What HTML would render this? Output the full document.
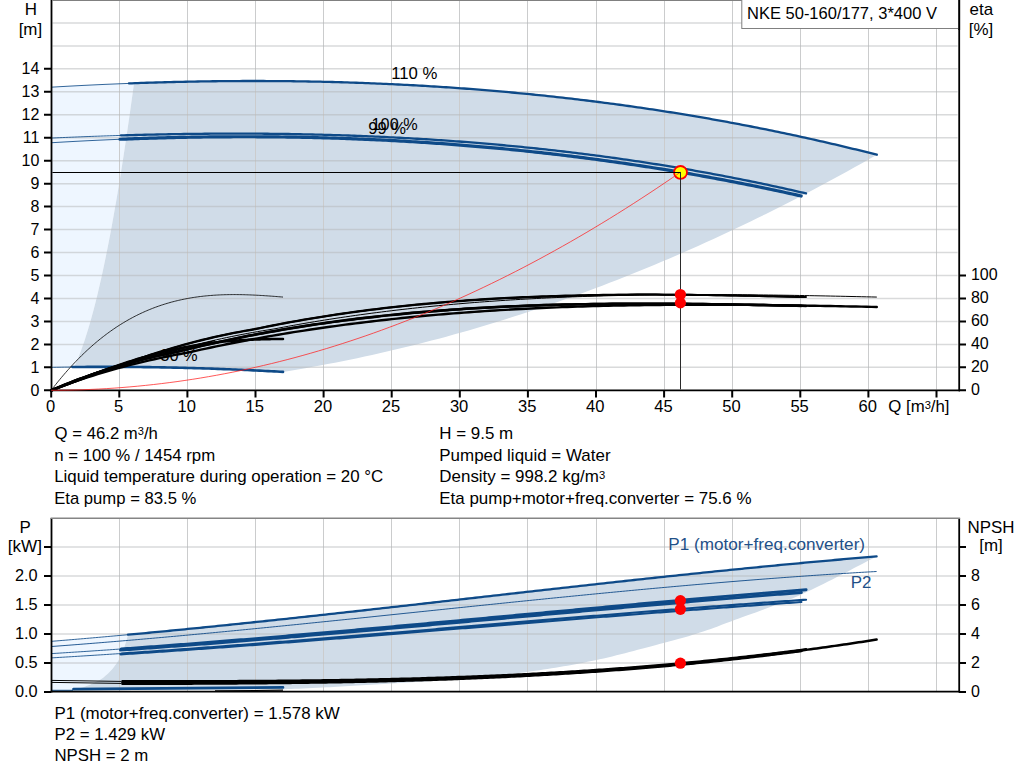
<!DOCTYPE html>
<html><head><meta charset="utf-8"><title>Pump curve</title>
<style>html,body{margin:0;padding:0;background:#fff;overflow:hidden}svg{display:block}text{font-family:"Liberation Sans",sans-serif}</style>
</head><body>
<svg width="1024" height="781" viewBox="0 0 1024 781" font-family="'Liberation Sans', sans-serif" font-size="16">
<rect x="0" y="0" width="1024" height="781" fill="#fff"/>
<path d="M52.00 87.14 L54.93 86.97 L57.86 86.80 L60.79 86.63 L63.71 86.47 L66.64 86.30 L69.57 86.14 L72.50 85.99 L75.43 85.83 L78.36 85.68 L81.29 85.53 L84.21 85.38 L87.14 85.23 L90.07 85.09 L93.00 84.95 L95.93 84.81 L98.86 84.67 L101.79 84.54 L104.71 84.41 L107.64 84.28 L110.57 84.15 L113.50 84.03 L116.43 83.90 L119.36 83.78 L122.29 83.67 L125.21 83.55 L128.14 83.44 L131.07 83.33 L134.00 83.22 L134.00 83.22 L132.50 94.25 L131.00 105.08 L129.50 115.70 L128.00 126.12 L126.50 136.35 L125.00 146.37 L123.50 156.18 L122.00 165.80 L120.50 175.21 L119.00 184.43 L117.50 193.44 L116.00 202.25 L114.49 210.86 L112.99 219.26 L111.49 227.47 L109.99 235.47 L108.49 243.27 L106.99 250.87 L105.49 258.27 L103.99 265.47 L102.49 272.46 L100.99 279.26 L99.49 285.85 L97.99 292.24 L96.49 298.43 L94.99 304.41 L93.49 310.20 L91.99 315.78 L90.49 321.16 L88.99 326.34 L87.49 331.32 L85.99 336.10 L84.49 340.67 L82.99 345.04 L81.49 349.22 L79.99 353.19 L78.49 356.95 L76.98 360.52 L75.48 363.89 L73.98 367.05 L73.98 367.03 L71.24 367.06 L68.49 367.09 L65.74 367.12 L62.99 367.16 L60.24 367.20 L57.50 367.24 L54.75 367.29 L52.00 367.33Z" fill="#eef6ff" stroke="none" stroke-width="0" />
<path d="M73.98 367.05 L75.48 363.89 L76.98 360.52 L78.49 356.95 L79.99 353.19 L81.49 349.22 L82.99 345.04 L84.49 340.67 L85.99 336.10 L87.49 331.32 L88.99 326.34 L90.49 321.16 L91.99 315.78 L93.49 310.20 L94.99 304.41 L96.49 298.43 L97.99 292.24 L99.49 285.85 L100.99 279.26 L102.49 272.46 L103.99 265.47 L105.49 258.27 L106.99 250.87 L108.49 243.27 L109.99 235.47 L111.49 227.47 L112.99 219.26 L114.49 210.86 L116.00 202.25 L117.50 193.44 L119.00 184.43 L120.50 175.21 L122.00 165.80 L123.50 156.18 L125.00 146.37 L126.50 136.35 L128.00 126.12 L129.50 115.70 L131.00 105.08 L132.50 94.25 L134.00 83.22 L137.00 83.11 L139.99 83.01 L142.99 82.91 L145.98 82.81 L148.98 82.71 L151.97 82.61 L154.97 82.52 L157.96 82.43 L160.96 82.35 L163.95 82.26 L166.95 82.18 L169.94 82.10 L172.94 82.03 L175.93 81.95 L178.93 81.88 L181.92 81.81 L184.92 81.75 L187.91 81.68 L190.91 81.62 L193.90 81.57 L196.90 81.51 L199.89 81.46 L202.89 81.41 L205.88 81.36 L208.88 81.32 L211.87 81.28 L214.87 81.24 L217.86 81.21 L220.86 81.17 L223.85 81.14 L226.85 81.12 L229.85 81.09 L232.84 81.07 L235.84 81.05 L238.83 81.04 L241.83 81.02 L244.82 81.01 L247.82 81.01 L250.81 81.00 L253.81 81.00 L256.80 81.00 L259.80 81.01 L262.79 81.01 L265.79 81.02 L268.78 81.04 L271.78 81.05 L274.77 81.07 L277.77 81.09 L280.76 81.12 L283.76 81.14 L286.75 81.17 L289.75 81.21 L292.74 81.24 L295.74 81.28 L298.73 81.33 L301.73 81.37 L304.72 81.42 L307.72 81.47 L310.71 81.53 L313.71 81.58 L316.70 81.64 L319.70 81.71 L322.70 81.77 L325.69 81.84 L328.69 81.92 L331.68 81.99 L334.68 82.07 L337.67 82.15 L340.67 82.24 L343.66 82.33 L346.66 82.42 L349.65 82.51 L352.65 82.61 L355.64 82.71 L358.64 82.81 L361.63 82.92 L364.63 83.03 L367.62 83.14 L370.62 83.26 L373.61 83.38 L376.61 83.50 L379.60 83.63 L382.60 83.76 L385.59 83.89 L388.59 84.02 L391.58 84.16 L394.58 84.30 L397.57 84.45 L400.57 84.60 L403.56 84.75 L406.56 84.90 L409.55 85.06 L412.55 85.22 L415.55 85.39 L418.54 85.56 L421.54 85.73 L424.53 85.90 L427.53 86.08 L430.52 86.26 L433.52 86.45 L436.51 86.63 L439.51 86.83 L442.50 87.02 L445.50 87.22 L448.49 87.42 L451.49 87.62 L454.48 87.83 L457.48 88.04 L460.47 88.26 L463.47 88.48 L466.46 88.70 L469.46 88.92 L472.45 89.15 L475.45 89.38 L478.44 89.62 L481.44 89.86 L484.43 90.10 L487.43 90.35 L490.42 90.60 L493.42 90.85 L496.41 91.10 L499.41 91.36 L502.40 91.63 L505.40 91.89 L508.40 92.17 L511.39 92.44 L514.39 92.72 L517.38 93.00 L520.38 93.28 L523.37 93.57 L526.37 93.86 L529.36 94.16 L532.36 94.46 L535.35 94.76 L538.35 95.06 L541.34 95.37 L544.34 95.69 L547.33 96.00 L550.33 96.32 L553.32 96.65 L556.32 96.98 L559.31 97.31 L562.31 97.64 L565.30 97.98 L568.30 98.32 L571.29 98.67 L574.29 99.02 L577.28 99.37 L580.28 99.73 L583.27 100.09 L586.27 100.46 L589.26 100.82 L592.26 101.20 L595.25 101.57 L598.25 101.95 L601.25 102.33 L604.24 102.72 L607.24 103.11 L610.23 103.51 L613.23 103.91 L616.22 104.31 L619.22 104.71 L622.21 105.12 L625.21 105.54 L628.20 105.95 L631.20 106.38 L634.19 106.80 L637.19 107.23 L640.18 107.66 L643.18 108.10 L646.17 108.54 L649.17 108.99 L652.16 109.43 L655.16 109.89 L658.15 110.34 L661.15 110.80 L664.14 111.27 L667.14 111.74 L670.13 112.21 L673.13 112.68 L676.12 113.16 L679.12 113.65 L682.11 114.13 L685.11 114.63 L688.10 115.12 L691.10 115.62 L694.10 116.13 L697.09 116.63 L700.09 117.15 L703.08 117.66 L706.08 118.18 L709.07 118.71 L712.07 119.23 L715.06 119.77 L718.06 120.30 L721.05 120.84 L724.05 121.39 L727.04 121.93 L730.04 122.49 L733.03 123.04 L736.03 123.60 L739.02 124.17 L742.02 124.74 L745.01 125.31 L748.01 125.89 L751.00 126.47 L754.00 127.05 L756.99 127.64 L759.99 128.24 L762.98 128.84 L765.98 129.44 L768.97 130.04 L771.97 130.65 L774.96 131.27 L777.96 131.89 L780.95 132.51 L783.95 133.14 L786.95 133.77 L789.94 134.41 L792.94 135.05 L795.93 135.69 L798.93 136.34 L801.92 136.99 L804.92 137.65 L807.91 138.31 L810.91 138.98 L813.90 139.65 L816.90 140.32 L819.89 141.00 L822.89 141.68 L825.88 142.37 L828.88 143.06 L831.87 143.76 L834.87 144.46 L837.86 145.16 L840.86 145.87 L843.85 146.59 L846.85 147.31 L849.84 148.03 L852.84 148.75 L855.83 149.49 L858.83 150.22 L861.82 150.96 L864.82 151.71 L867.81 152.46 L870.81 153.21 L873.80 153.97 L876.80 154.73 L869.38 158.96 L861.95 163.15 L854.53 167.31 L847.11 171.42 L839.69 175.50 L832.26 179.54 L824.84 183.54 L817.42 187.50 L810.00 191.43 L802.57 195.31 L795.15 199.16 L787.73 202.97 L780.31 206.74 L772.88 210.47 L765.46 214.16 L758.04 217.82 L750.62 221.43 L743.19 225.01 L735.77 228.55 L728.35 232.05 L720.93 235.51 L713.50 238.93 L706.08 242.32 L698.66 245.67 L691.24 248.98 L683.81 252.25 L676.39 255.48 L668.97 258.67 L661.55 261.83 L654.12 264.94 L646.70 268.02 L639.28 271.06 L631.86 274.06 L624.43 277.02 L617.01 279.95 L609.59 282.83 L602.17 285.68 L594.74 288.49 L587.32 291.26 L579.90 294.00 L572.48 296.69 L565.06 299.35 L557.63 301.96 L550.21 304.54 L542.79 307.08 L535.36 309.59 L527.94 312.05 L520.52 314.48 L513.10 316.86 L505.67 319.21 L498.25 321.52 L490.83 323.80 L483.41 326.03 L475.98 328.23 L468.56 330.39 L461.14 332.50 L453.72 334.59 L446.29 336.63 L438.87 338.63 L431.45 340.60 L424.03 342.53 L416.60 344.42 L409.18 346.27 L401.76 348.08 L394.34 349.86 L386.91 351.59 L379.49 353.29 L372.07 354.95 L364.65 356.57 L357.22 358.16 L349.80 359.70 L342.38 361.21 L334.96 362.68 L327.53 364.11 L320.11 365.50 L312.69 366.86 L305.27 368.17 L297.84 369.45 L290.42 370.69 L283.00 371.89 L280.01 371.73 L277.03 371.56 L274.04 371.40 L271.06 371.24 L268.07 371.08 L265.08 370.92 L262.10 370.77 L259.11 370.62 L256.13 370.48 L253.14 370.34 L250.15 370.20 L247.17 370.06 L244.18 369.92 L241.20 369.79 L238.21 369.66 L235.22 369.54 L232.24 369.42 L229.25 369.30 L226.27 369.18 L223.28 369.07 L220.30 368.95 L217.31 368.85 L214.32 368.74 L211.34 368.64 L208.35 368.54 L205.37 368.44 L202.38 368.35 L199.39 368.26 L196.41 368.17 L193.42 368.08 L190.44 368.00 L187.45 367.92 L184.46 367.84 L181.48 367.77 L178.49 367.70 L175.51 367.63 L172.52 367.57 L169.53 367.50 L166.55 367.44 L163.56 367.39 L160.58 367.33 L157.59 367.28 L154.60 367.23 L151.62 367.19 L148.63 367.15 L145.65 367.11 L142.66 367.07 L139.67 367.04 L136.69 367.01 L133.70 366.98 L130.72 366.95 L127.73 366.93 L124.75 366.91 L121.76 366.90 L118.77 366.88 L115.79 366.87 L112.80 366.86 L109.82 366.86 L106.83 366.86 L103.84 366.86 L100.86 366.86 L97.87 366.87 L94.89 366.88 L91.90 366.89 L88.91 366.91 L85.93 366.93 L82.94 366.95 L79.96 366.97 L76.97 367.00 L73.98 367.03Z" fill="#d0dce8" stroke="none" stroke-width="0" />
<path d="M119.5 1V389.5M187.5 1V389.5M255.5 1V389.5M323.5 1V389.5M391.5 1V389.5M459.5 1V389.5M527.5 1V389.5M596.5 1V389.5M664.5 1V389.5M732.5 1V389.5M800.5 1V389.5M868.5 1V389.5M936.5 1V389.5" fill="none" stroke="#cbcccd" stroke-width="1" />
<path d="M52.4 367.34H957.6M52.4 344.38H957.6M52.4 321.42H957.6M52.4 298.46H957.6M52.4 275.50H957.6M52.4 252.54H957.6M52.4 229.58H957.6M52.4 206.62H957.6M52.4 183.66H957.6M52.4 160.70H957.6M52.4 137.74H957.6M52.4 114.78H957.6M52.4 91.82H957.6M52.4 68.86H957.6M52.4 45.90H957.6M52.4 22.94H957.6" fill="none" stroke="#b6b8ba" stroke-width="1.5" stroke-opacity="0.52"/>
<path d="M51.00 87.20 L54.00 87.02 L57.00 86.85 L60.00 86.67 L63.00 86.51 L66.00 86.34 L69.00 86.17 L72.00 86.01 L75.00 85.85 L78.00 85.70 L81.00 85.54 L84.00 85.39 L87.00 85.24 L90.00 85.09 L93.00 84.95 L96.00 84.81 L99.00 84.67 L102.00 84.53 L105.00 84.39 L108.00 84.26 L111.00 84.13 L114.00 84.00 L117.00 83.88 L120.00 83.76 L123.00 83.64 L126.00 83.52 L129.00 83.41" fill="none" stroke="#0e4a88" stroke-width="0.85" />
<path d="M129.00 83.41 L131.99 83.29 L134.98 83.19 L137.97 83.08 L140.96 82.97 L143.96 82.87 L146.95 82.77 L149.94 82.68 L152.93 82.58 L155.92 82.49 L158.91 82.40 L161.90 82.32 L164.89 82.24 L167.89 82.16 L170.88 82.08 L173.87 82.00 L176.86 81.93 L179.85 81.86 L182.84 81.79 L185.83 81.73 L188.82 81.67 L191.82 81.61 L194.81 81.55 L197.80 81.50 L200.79 81.45 L203.78 81.40 L206.77 81.35 L209.76 81.31 L212.75 81.27 L215.74 81.23 L218.74 81.20 L221.73 81.16 L224.72 81.14 L227.71 81.11 L230.70 81.09 L233.69 81.07 L236.68 81.05 L239.67 81.03 L242.67 81.02 L245.66 81.01 L248.65 81.00 L251.64 81.00 L254.63 81.00 L257.62 81.00 L260.61 81.01 L263.60 81.02 L266.60 81.03 L269.59 81.04 L272.58 81.06 L275.57 81.08 L278.56 81.10 L281.55 81.12 L284.54 81.15 L287.53 81.18 L290.52 81.22 L293.52 81.25 L296.51 81.29 L299.50 81.34 L302.49 81.38 L305.48 81.43 L308.47 81.49 L311.46 81.54 L314.45 81.60 L317.45 81.66 L320.44 81.72 L323.43 81.79 L326.42 81.86 L329.41 81.93 L332.40 82.01 L335.39 82.09 L338.38 82.17 L341.38 82.26 L344.37 82.35 L347.36 82.44 L350.35 82.53 L353.34 82.63 L356.33 82.73 L359.32 82.84 L362.31 82.94 L365.30 83.05 L368.30 83.17 L371.29 83.29 L374.28 83.41 L377.27 83.53 L380.26 83.65 L383.25 83.78 L386.24 83.92 L389.23 84.05 L392.23 84.19 L395.22 84.33 L398.21 84.48 L401.20 84.63 L404.19 84.78 L407.18 84.94 L410.17 85.10 L413.16 85.26 L416.16 85.42 L419.15 85.59 L422.14 85.76 L425.13 85.94 L428.12 86.12 L431.11 86.30 L434.10 86.48 L437.09 86.67 L440.08 86.86 L443.08 87.06 L446.07 87.26 L449.06 87.46 L452.05 87.66 L455.04 87.87 L458.03 88.08 L461.02 88.30 L464.01 88.52 L467.01 88.74 L470.00 88.96 L472.99 89.19 L475.98 89.43 L478.97 89.66 L481.96 89.90 L484.95 90.14 L487.94 90.39 L490.94 90.64 L493.93 90.89 L496.92 91.15 L499.91 91.41 L502.90 91.67 L505.89 91.94 L508.88 92.21 L511.87 92.48 L514.86 92.76 L517.86 93.04 L520.85 93.33 L523.84 93.62 L526.83 93.91 L529.82 94.20 L532.81 94.50 L535.80 94.80 L538.79 95.11 L541.79 95.42 L544.78 95.73 L547.77 96.05 L550.76 96.37 L553.75 96.69 L556.74 97.02 L559.73 97.35 L562.72 97.69 L565.72 98.03 L568.71 98.37 L571.70 98.72 L574.69 99.07 L577.68 99.42 L580.67 99.78 L583.66 100.14 L586.65 100.50 L589.64 100.87 L592.64 101.24 L595.63 101.62 L598.62 102.00 L601.61 102.38 L604.60 102.77 L607.59 103.16 L610.58 103.55 L613.57 103.95 L616.57 104.35 L619.56 104.76 L622.55 105.17 L625.54 105.58 L628.53 106.00 L631.52 106.42 L634.51 106.85 L637.50 107.28 L640.50 107.71 L643.49 108.15 L646.48 108.59 L649.47 109.03 L652.46 109.48 L655.45 109.93 L658.44 110.39 L661.43 110.85 L664.42 111.31 L667.42 111.78 L670.41 112.25 L673.40 112.73 L676.39 113.21 L679.38 113.69 L682.37 114.18 L685.36 114.67 L688.35 115.16 L691.35 115.66 L694.34 116.17 L697.33 116.67 L700.32 117.19 L703.31 117.70 L706.30 118.22 L709.29 118.74 L712.28 119.27 L715.28 119.80 L718.27 120.34 L721.26 120.88 L724.25 121.42 L727.24 121.97 L730.23 122.52 L733.22 123.08 L736.21 123.64 L739.20 124.20 L742.20 124.77 L745.19 125.34 L748.18 125.92 L751.17 126.50 L754.16 127.09 L757.15 127.67 L760.14 128.27 L763.13 128.87 L766.13 129.47 L769.12 130.07 L772.11 130.68 L775.10 131.30 L778.09 131.91 L781.08 132.54 L784.07 133.16 L787.06 133.80 L790.06 134.43 L793.05 135.07 L796.04 135.71 L799.03 136.36 L802.02 137.01 L805.01 137.67 L808.00 138.33 L810.99 139.00 L813.98 139.67 L816.98 140.34 L819.97 141.02 L822.96 141.70 L825.95 142.39 L828.94 143.08 L831.93 143.77 L834.92 144.47 L837.91 145.18 L840.91 145.89 L843.90 146.60 L846.89 147.32 L849.88 148.04 L852.87 148.76 L855.86 149.49 L858.85 150.23 L861.84 150.97 L864.84 151.71 L867.83 152.46 L870.82 153.21 L873.81 153.97 L876.80 154.73" fill="none" stroke="#0e4a88" stroke-width="2.3" stroke-linecap="round" stroke-linejoin="round"/>
<path d="M51.00 138.09 L53.92 137.96 L56.83 137.83 L59.75 137.70 L62.67 137.57 L65.58 137.44 L68.50 137.32 L71.42 137.20 L74.33 137.08 L77.25 136.96 L80.17 136.85 L83.08 136.73 L86.00 136.62 L88.92 136.51 L91.83 136.40 L94.75 136.29 L97.67 136.19 L100.58 136.08 L103.50 135.98 L106.42 135.88 L109.33 135.79 L112.25 135.69 L115.17 135.60 L118.08 135.51 L121.00 135.42" fill="none" stroke="#0e4a88" stroke-width="0.85" />
<path d="M121.00 135.42 L123.99 135.33 L126.98 135.24 L129.97 135.16 L132.97 135.08 L135.96 134.99 L138.95 134.92 L141.94 134.84 L144.93 134.77 L147.92 134.69 L150.91 134.62 L153.90 134.56 L156.90 134.49 L159.89 134.43 L162.88 134.37 L165.87 134.31 L168.86 134.25 L171.85 134.20 L174.84 134.15 L177.83 134.10 L180.83 134.05 L183.82 134.01 L186.81 133.97 L189.80 133.93 L192.79 133.89 L195.78 133.85 L198.77 133.82 L201.76 133.79 L204.76 133.76 L207.75 133.74 L210.74 133.72 L213.73 133.69 L216.72 133.68 L219.71 133.66 L222.70 133.65 L225.69 133.64 L228.69 133.63 L231.68 133.63 L234.67 133.62 L237.66 133.62 L240.65 133.62 L243.64 133.63 L246.63 133.64 L249.62 133.65 L252.62 133.66 L255.61 133.68 L258.60 133.69 L261.59 133.71 L264.58 133.74 L267.57 133.76 L270.56 133.79 L273.55 133.82 L276.55 133.86 L279.54 133.89 L282.53 133.93 L285.52 133.98 L288.51 134.02 L291.50 134.07 L294.49 134.12 L297.48 134.17 L300.48 134.23 L303.47 134.29 L306.46 134.35 L309.45 134.42 L312.44 134.48 L315.43 134.55 L318.42 134.63 L321.41 134.70 L324.41 134.78 L327.40 134.86 L330.39 134.95 L333.38 135.04 L336.37 135.13 L339.36 135.22 L342.35 135.32 L345.34 135.42 L348.34 135.52 L351.33 135.63 L354.32 135.73 L357.31 135.85 L360.30 135.96 L363.29 136.08 L366.28 136.20 L369.28 136.32 L372.27 136.45 L375.26 136.58 L378.25 136.71 L381.24 136.85 L384.23 136.99 L387.22 137.13 L390.21 137.28 L393.21 137.42 L396.20 137.58 L399.19 137.73 L402.18 137.89 L405.17 138.05 L408.16 138.22 L411.15 138.38 L414.14 138.55 L417.14 138.73 L420.13 138.91 L423.12 139.09 L426.11 139.27 L429.10 139.46 L432.09 139.65 L435.08 139.84 L438.07 140.04 L441.07 140.24 L444.06 140.45 L447.05 140.65 L450.04 140.87 L453.03 141.08 L456.02 141.30 L459.01 141.52 L462.00 141.74 L465.00 141.97 L467.99 142.20 L470.98 142.44 L473.97 142.68 L476.96 142.92 L479.95 143.16 L482.94 143.41 L485.93 143.66 L488.93 143.92 L491.92 144.18 L494.91 144.44 L497.90 144.71 L500.89 144.98 L503.88 145.25 L506.87 145.53 L509.86 145.81 L512.86 146.10 L515.85 146.38 L518.84 146.68 L521.83 146.97 L524.82 147.27 L527.81 147.57 L530.80 147.88 L533.79 148.19 L536.79 148.50 L539.78 148.82 L542.77 149.14 L545.76 149.47 L548.75 149.80 L551.74 150.13 L554.73 150.47 L557.72 150.81 L560.72 151.15 L563.71 151.50 L566.70 151.85 L569.69 152.21 L572.68 152.57 L575.67 152.93 L578.66 153.30 L581.66 153.67 L584.65 154.04 L587.64 154.42 L590.63 154.80 L593.62 155.19 L596.61 155.58 L599.60 155.98 L602.59 156.37 L605.59 156.78 L608.58 157.18 L611.57 157.59 L614.56 158.01 L617.55 158.43 L620.54 158.85 L623.53 159.28 L626.52 159.71 L629.52 160.14 L632.51 160.58 L635.50 161.02 L638.49 161.47 L641.48 161.92 L644.47 162.38 L647.46 162.84 L650.45 163.30 L653.45 163.77 L656.44 164.24 L659.43 164.72 L662.42 165.20 L665.41 165.68 L668.40 166.17 L671.39 166.66 L674.38 167.16 L677.38 167.66 L680.37 168.17 L683.36 168.68 L686.35 169.19 L689.34 169.71 L692.33 170.23 L695.32 170.76 L698.31 171.29 L701.31 171.83 L704.30 172.37 L707.29 172.91 L710.28 173.46 L713.27 174.01 L716.26 174.57 L719.25 175.13 L722.24 175.70 L725.24 176.27 L728.23 176.85 L731.22 177.43 L734.21 178.01 L737.20 178.60 L740.19 179.19 L743.18 179.79 L746.17 180.40 L749.17 181.00 L752.16 181.61 L755.15 182.23 L758.14 182.85 L761.13 183.48 L764.12 184.11 L767.11 184.74 L770.10 185.38 L773.10 186.02 L776.09 186.67 L779.08 187.32 L782.07 187.98 L785.06 188.64 L788.05 189.31 L791.04 189.98 L794.03 190.66 L797.03 191.34 L800.02 192.03 L803.01 192.72 L806.00 193.41" fill="none" stroke="#0e4a88" stroke-width="2.3" stroke-linecap="round" stroke-linejoin="round"/>
<path d="M51.00 142.76 L54.00 142.58 L57.00 142.40 L60.00 142.23 L63.00 142.05 L66.00 141.88 L69.00 141.72 L72.00 141.55 L75.00 141.39 L78.00 141.23 L81.00 141.07 L84.00 140.92 L87.00 140.76 L90.00 140.62 L93.00 140.47 L96.00 140.32 L99.00 140.18 L102.00 140.05 L105.00 139.91 L108.00 139.78 L111.00 139.65 L114.00 139.52 L117.00 139.40 L120.00 139.27" fill="none" stroke="#0e4a88" stroke-width="0.85" />
<path d="M120.00 139.27 L122.99 139.16 L125.98 139.04 L128.96 138.93 L131.95 138.82 L134.94 138.71 L137.93 138.60 L140.91 138.50 L143.90 138.40 L146.89 138.31 L149.88 138.21 L152.86 138.12 L155.85 138.04 L158.84 137.95 L161.83 137.87 L164.82 137.79 L167.80 137.71 L170.79 137.64 L173.78 137.57 L176.77 137.50 L179.75 137.44 L182.74 137.37 L185.73 137.31 L188.72 137.26 L191.71 137.20 L194.69 137.15 L197.68 137.11 L200.67 137.06 L203.66 137.02 L206.64 136.98 L209.63 136.95 L212.62 136.91 L215.61 136.88 L218.59 136.86 L221.58 136.83 L224.57 136.81 L227.56 136.79 L230.55 136.78 L233.53 136.77 L236.52 136.76 L239.51 136.75 L242.50 136.75 L245.48 136.75 L248.47 136.75 L251.46 136.76 L254.45 136.76 L257.44 136.78 L260.42 136.79 L263.41 136.81 L266.40 136.83 L269.39 136.86 L272.37 136.88 L275.36 136.91 L278.35 136.95 L281.34 136.98 L284.32 137.02 L287.31 137.07 L290.30 137.11 L293.29 137.16 L296.28 137.21 L299.26 137.27 L302.25 137.33 L305.24 137.39 L308.23 137.45 L311.21 137.52 L314.20 137.59 L317.19 137.66 L320.18 137.74 L323.16 137.82 L326.15 137.91 L329.14 137.99 L332.13 138.08 L335.12 138.18 L338.10 138.27 L341.09 138.37 L344.08 138.48 L347.07 138.58 L350.05 138.69 L353.04 138.80 L356.03 138.92 L359.02 139.04 L362.01 139.16 L364.99 139.29 L367.98 139.42 L370.97 139.55 L373.96 139.68 L376.94 139.82 L379.93 139.96 L382.92 140.11 L385.91 140.26 L388.89 140.41 L391.88 140.56 L394.87 140.72 L397.86 140.89 L400.85 141.05 L403.83 141.22 L406.82 141.39 L409.81 141.57 L412.80 141.75 L415.78 141.93 L418.77 142.11 L421.76 142.30 L424.75 142.49 L427.74 142.69 L430.72 142.89 L433.71 143.09 L436.70 143.30 L439.69 143.51 L442.67 143.72 L445.66 143.94 L448.65 144.15 L451.64 144.38 L454.62 144.60 L457.61 144.83 L460.60 145.07 L463.59 145.30 L466.58 145.54 L469.56 145.79 L472.55 146.04 L475.54 146.29 L478.53 146.54 L481.51 146.80 L484.50 147.06 L487.49 147.33 L490.48 147.59 L493.46 147.87 L496.45 148.14 L499.44 148.42 L502.43 148.70 L505.42 148.99 L508.40 149.28 L511.39 149.57 L514.38 149.87 L517.37 150.17 L520.35 150.47 L523.34 150.78 L526.33 151.09 L529.32 151.41 L532.31 151.73 L535.29 152.05 L538.28 152.37 L541.27 152.70 L544.26 153.04 L547.24 153.37 L550.23 153.71 L553.22 154.06 L556.21 154.41 L559.19 154.76 L562.18 155.11 L565.17 155.47 L568.16 155.83 L571.15 156.20 L574.13 156.57 L577.12 156.94 L580.11 157.32 L583.10 157.70 L586.08 158.09 L589.07 158.48 L592.06 158.87 L595.05 159.26 L598.04 159.66 L601.02 160.07 L604.01 160.47 L607.00 160.89 L609.99 161.30 L612.97 161.72 L615.96 162.14 L618.95 162.57 L621.94 163.00 L624.92 163.43 L627.91 163.87 L630.90 164.31 L633.89 164.76 L636.88 165.21 L639.86 165.66 L642.85 166.12 L645.84 166.58 L648.83 167.04 L651.81 167.51 L654.80 167.98 L657.79 168.46 L660.78 168.94 L663.76 169.42 L666.75 169.91 L669.74 170.40 L672.73 170.90 L675.72 171.40 L678.70 171.90 L681.69 172.41 L684.68 172.92 L687.67 173.44 L690.65 173.95 L693.64 174.48 L696.63 175.01 L699.62 175.54 L702.61 176.07 L705.59 176.61 L708.58 177.15 L711.57 177.70 L714.56 178.25 L717.54 178.81 L720.53 179.37 L723.52 179.93 L726.51 180.50 L729.49 181.07 L732.48 181.64 L735.47 182.22 L738.46 182.81 L741.45 183.40 L744.43 183.99 L747.42 184.58 L750.41 185.18 L753.40 185.79 L756.38 186.39 L759.37 187.01 L762.36 187.62 L765.35 188.24 L768.34 188.87 L771.32 189.50 L774.31 190.13 L777.30 190.76 L780.29 191.41 L783.27 192.05 L786.26 192.70 L789.25 193.35 L792.24 194.01 L795.22 194.67 L798.21 195.34 L801.20 196.01" fill="none" stroke="#0e4a88" stroke-width="3.2" stroke-linecap="round" stroke-linejoin="round"/>
<path d="M51.00 367.35 L53.69 367.31 L56.38 367.26 L59.06 367.22 L61.75 367.18 L64.44 367.14 L67.12 367.11 L69.81 367.07 L72.50 367.04" fill="none" stroke="#0e4a88" stroke-width="0.85" />
<path d="M72.50 367.04 L75.46 367.01 L78.43 366.98 L81.39 366.96 L84.36 366.94 L87.32 366.92 L90.29 366.90 L93.25 366.89 L96.22 366.87 L99.18 366.87 L102.15 366.86 L105.11 366.86 L108.08 366.86 L111.04 366.86 L114.01 366.87 L116.97 366.88 L119.94 366.89 L122.90 366.90 L125.87 366.92 L128.83 366.94 L131.80 366.96 L134.76 366.99 L137.73 367.02 L140.69 367.05 L143.65 367.08 L146.62 367.12 L149.58 367.16 L152.55 367.20 L155.51 367.25 L158.48 367.30 L161.44 367.35 L164.41 367.40 L167.37 367.46 L170.34 367.52 L173.30 367.58 L176.27 367.65 L179.23 367.72 L182.20 367.79 L185.16 367.86 L188.13 367.94 L191.09 368.02 L194.06 368.10 L197.02 368.19 L199.99 368.27 L202.95 368.36 L205.92 368.46 L208.88 368.56 L211.85 368.65 L214.81 368.76 L217.77 368.86 L220.74 368.97 L223.70 369.08 L226.67 369.19 L229.63 369.31 L232.60 369.43 L235.56 369.55 L238.53 369.68 L241.49 369.81 L244.46 369.94 L247.42 370.07 L250.39 370.21 L253.35 370.35 L256.32 370.49 L259.28 370.63 L262.25 370.78 L265.21 370.93 L268.18 371.08 L271.14 371.24 L274.11 371.40 L277.07 371.56 L280.04 371.73 L283.00 371.89" fill="none" stroke="#0e4a88" stroke-width="2.6" stroke-linecap="round" stroke-linejoin="round"/>
<text transform="translate(391.20 79.00) scale(0.9850 1)" text-anchor="start" fill="#000" font-size="17">110 %</text>
<text transform="translate(371.60 129.80) scale(0.9550 1)" text-anchor="start" fill="#000" font-size="17">100 %</text>
<text transform="translate(368.20 133.60) scale(0.9750 1)" text-anchor="start" fill="#000" font-size="17">99 %</text>
<text transform="translate(160.30 360.60) scale(0.9650 1)" text-anchor="start" fill="#000" font-size="17">30 %</text>
<path d="M51.20 390.30 L52.65 388.42 L54.10 386.56 L55.55 384.72 L57.00 382.91 L58.44 381.12 L59.89 379.36 L61.34 377.62 L62.79 375.90 L64.24 374.20 L65.69 372.53 L67.14 370.88 L68.59 369.25 L70.03 367.65 L71.48 366.06 L72.93 364.50 L74.38 362.96 L75.83 361.44 L77.28 359.95 L78.73 358.47 L80.18 357.02 L81.62 355.58 L83.07 354.17 L84.52 352.78 L85.97 351.41 L87.42 350.06 L88.87 348.73 L90.32 347.43 L91.77 346.14 L93.21 344.87 L94.66 343.62 L96.11 342.39 L97.56 341.18 L99.01 339.99 L100.46 338.82 L101.91 337.67 L103.36 336.54 L104.80 335.43 L106.25 334.33 L107.70 333.25 L109.15 332.20 L110.60 331.16 L112.05 330.14 L113.50 329.13 L114.95 328.15 L116.39 327.18 L117.84 326.23 L119.29 325.30 L120.74 324.38 L122.19 323.48 L123.64 322.60 L125.09 321.74 L126.54 320.89 L127.98 320.06 L129.43 319.25 L130.88 318.45 L132.33 317.67 L133.78 316.90 L135.23 316.15 L136.68 315.42 L138.12 314.70 L139.57 314.00 L141.02 313.31 L142.47 312.63 L143.92 311.98 L145.37 311.33 L146.82 310.71 L148.27 310.09 L149.72 309.49 L151.16 308.91 L152.61 308.34 L154.06 307.78 L155.51 307.24 L156.96 306.71 L158.41 306.19 L159.86 305.69 L161.31 305.20 L162.75 304.73 L164.20 304.27 L165.65 303.82 L167.10 303.38 L168.55 302.96 L170.00 302.54 L171.45 302.14 L172.90 301.76 L174.34 301.38 L175.79 301.02 L177.24 300.67 L178.69 300.33 L180.14 300.00 L181.59 299.68 L183.04 299.37 L184.49 299.08 L185.93 298.80 L187.38 298.52 L188.83 298.26 L190.28 298.01 L191.73 297.76 L193.18 297.53 L194.63 297.31 L196.07 297.10 L197.52 296.90 L198.97 296.70 L200.42 296.52 L201.87 296.35 L203.32 296.18 L204.77 296.03 L206.22 295.88 L207.67 295.74 L209.11 295.61 L210.56 295.49 L212.01 295.38 L213.46 295.27 L214.91 295.18 L216.36 295.09 L217.81 295.01 L219.25 294.93 L220.70 294.87 L222.15 294.81 L223.60 294.76 L225.05 294.71 L226.50 294.68 L227.95 294.65 L229.40 294.62 L230.85 294.61 L232.29 294.59 L233.74 294.59 L235.19 294.59 L236.64 294.60 L238.09 294.61 L239.54 294.63 L240.99 294.65 L242.44 294.68 L243.88 294.71 L245.33 294.75 L246.78 294.80 L248.23 294.85 L249.68 294.90 L251.13 294.96 L252.58 295.02 L254.02 295.09 L255.47 295.16 L256.92 295.23 L258.37 295.31 L259.82 295.39 L261.27 295.48 L262.72 295.56 L264.17 295.66 L265.62 295.75 L267.06 295.85 L268.51 295.95 L269.96 296.05 L271.41 296.16 L272.86 296.26 L274.31 296.37 L275.76 296.49 L277.21 296.60 L278.65 296.72 L280.10 296.83 L281.55 296.95 L283.00 297.07" fill="none" stroke="#000" stroke-width="0.8" />
<path d="M51.20 390.30 L52.65 389.77 L54.10 389.23 L55.55 388.69 L57.00 388.15 L58.44 387.61 L59.89 387.07 L61.34 386.52 L62.79 385.97 L64.24 385.42 L65.69 384.87 L67.14 384.32 L68.59 383.76 L70.03 383.21 L71.48 382.65 L72.93 382.09 L74.38 381.54 L75.83 380.98 L77.28 380.42 L78.73 379.87 L80.18 379.31 L81.62 378.76 L83.07 378.20 L84.52 377.65 L85.97 377.09 L87.42 376.54 L88.87 375.99 L90.32 375.44 L91.77 374.89 L93.21 374.34 L94.66 373.80 L96.11 373.26 L97.56 372.72 L99.01 372.18 L100.46 371.64 L101.91 371.11 L103.36 370.57 L104.80 370.05 L106.25 369.52 L107.70 369.00 L109.15 368.48 L110.60 367.96 L112.05 367.44 L113.50 366.93 L114.95 366.42 L116.39 365.92 L117.84 365.42 L119.29 364.92 L120.74 364.43 L122.19 363.94 L123.64 363.45 L125.09 362.97 L126.54 362.49 L127.98 362.02 L129.43 361.55 L130.88 361.08 L132.33 360.62 L133.78 360.16 L135.23 359.71 L136.68 359.26 L138.12 358.82 L139.57 358.38 L141.02 357.95 L142.47 357.52 L143.92 357.09 L145.37 356.67 L146.82 356.26 L148.27 355.84 L149.72 355.44 L151.16 355.04 L152.61 354.64 L154.06 354.25 L155.51 353.87 L156.96 353.49 L158.41 353.11 L159.86 352.74 L161.31 352.38 L162.75 352.02 L164.20 351.66 L165.65 351.31 L167.10 350.97 L168.55 350.63 L170.00 350.30 L171.45 349.97 L172.90 349.64 L174.34 349.33 L175.79 349.01 L177.24 348.71 L178.69 348.41 L180.14 348.11 L181.59 347.82 L183.04 347.53 L184.49 347.25 L185.93 346.98 L187.38 346.71 L188.83 346.44 L190.28 346.18 L191.73 345.93 L193.18 345.68 L194.63 345.44 L196.07 345.20 L197.52 344.97 L198.97 344.74 L200.42 344.52 L201.87 344.30 L203.32 344.09 L204.77 343.88 L206.22 343.68 L207.67 343.48 L209.11 343.29 L210.56 343.10 L212.01 342.92 L213.46 342.74 L214.91 342.57 L216.36 342.40 L217.81 342.24 L219.25 342.08 L220.70 341.92 L222.15 341.78 L223.60 341.63 L225.05 341.49 L226.50 341.36 L227.95 341.23 L229.40 341.10 L230.85 340.98 L232.29 340.86 L233.74 340.75 L235.19 340.64 L236.64 340.53 L238.09 340.43 L239.54 340.34 L240.99 340.24 L242.44 340.16 L243.88 340.07 L245.33 339.99 L246.78 339.91 L248.23 339.84 L249.68 339.77 L251.13 339.71 L252.58 339.64 L254.02 339.58 L255.47 339.53 L256.92 339.48 L258.37 339.43 L259.82 339.38 L261.27 339.34 L262.72 339.30 L264.17 339.26 L265.62 339.23 L267.06 339.20 L268.51 339.17 L269.96 339.14 L271.41 339.12 L272.86 339.10 L274.31 339.08 L275.76 339.07 L277.21 339.05 L278.65 339.04 L280.10 339.04 L281.55 339.03 L283.00 339.02" fill="none" stroke="#000" stroke-width="2.5" stroke-linecap="round" stroke-linejoin="round"/>
<path d="M51.20 390.30 L56.36 388.42 L61.52 386.56 L66.68 384.72 L71.84 382.91 L77.00 381.12 L82.16 379.36 L87.32 377.62 L92.48 375.90 L97.64 374.20 L102.80 372.53 L107.96 370.88 L113.12 369.25 L118.28 367.63 L123.44 365.97 L128.60 364.33 L133.76 362.69 L138.92 361.08 L144.08 359.48 L149.24 357.90 L154.40 356.34 L159.56 354.80 L164.72 353.29 L169.88 351.80 L175.04 350.34 L180.20 348.91 L185.36 347.51 L190.52 346.15 L195.68 344.81 L200.84 343.51 L206.00 342.25 L211.16 341.02 L216.32 339.83 L221.48 338.68 L226.64 337.57 L231.80 336.49 L236.96 335.45 L242.12 334.44 L247.28 333.47 L252.44 332.53 L257.60 331.63 L262.76 330.76 L267.92 329.91 L273.08 329.10 L278.24 328.15 L283.40 327.18 L288.56 326.23 L293.72 325.30 L298.88 324.38 L304.04 323.48 L309.20 322.60 L314.36 321.74 L319.52 320.89 L324.68 320.06 L329.84 319.25 L335.00 318.45 L340.16 317.67 L345.32 316.90 L350.48 316.15 L355.64 315.42 L360.80 314.70 L365.96 314.00 L371.12 313.31 L376.28 312.63 L381.44 311.98 L386.60 311.33 L391.76 310.71 L396.92 310.09 L402.08 309.49 L407.24 308.91 L412.40 308.34 L417.56 307.78 L422.72 307.24 L427.88 306.71 L433.04 306.19 L438.20 305.69 L443.36 305.20 L448.52 304.73 L453.68 304.27 L458.84 303.82 L464.00 303.38 L469.16 302.96 L474.32 302.54 L479.48 302.14 L484.64 301.76 L489.80 301.38 L494.96 301.02 L500.12 300.67 L505.28 300.33 L510.44 300.00 L515.60 299.68 L520.76 299.37 L525.92 299.08 L531.08 298.80 L536.24 298.52 L541.40 298.26 L546.56 298.01 L551.72 297.76 L556.88 297.53 L562.04 297.31 L567.20 297.10 L572.36 296.90 L577.52 296.70 L582.68 296.52 L587.84 296.35 L593.00 296.18 L598.16 296.03 L603.32 295.88 L608.48 295.74 L613.64 295.61 L618.80 295.49 L623.96 295.38 L629.12 295.27 L634.28 295.18 L639.44 295.09 L644.60 295.01 L649.76 294.93 L654.92 294.87 L660.08 294.81 L665.24 294.76 L670.40 294.71 L675.56 294.68 L680.72 294.65 L685.88 294.62 L691.04 294.61 L696.20 294.59 L701.36 294.59 L706.52 294.59 L711.68 294.60 L716.84 294.61 L722.00 294.63 L727.16 294.65 L732.32 294.68 L737.48 294.71 L742.64 294.75 L747.80 294.80 L752.96 294.85 L758.12 294.90 L763.28 294.96 L768.44 295.02 L773.60 295.09 L778.76 295.16 L783.92 295.23 L789.08 295.31 L794.24 295.39 L799.40 295.48 L804.56 295.56 L809.72 295.66 L814.88 295.75 L820.04 295.85 L825.20 295.95 L830.36 296.05 L835.52 296.16 L840.68 296.26 L845.84 296.37 L851.00 296.49 L856.16 296.60 L861.32 296.72 L866.48 296.83 L871.64 296.95 L876.80 297.07" fill="none" stroke="#000" stroke-width="1.0" />
<path d="M51.20 390.30 L55.92 388.42 L60.64 386.56 L65.35 384.72 L70.07 382.91 L74.79 381.12 L79.50 379.36 L84.22 377.62 L88.94 375.90 L93.66 374.20 L98.38 372.53 L103.09 370.88 L107.81 369.25 L112.53 367.63 L117.24 365.97 L121.96 364.33 L126.68 362.69 L131.40 361.08 L136.12 359.48 L140.83 357.90 L145.55 356.34 L150.27 354.80 L154.99 353.29 L159.70 351.80 L164.42 350.34 L169.14 348.91 L173.86 347.51 L178.57 346.15 L183.29 344.81 L188.01 343.51 L192.73 342.25 L197.44 341.02 L202.16 339.83 L206.88 338.68 L211.59 337.57 L216.31 336.49 L221.03 335.45 L225.75 334.44 L230.46 333.47 L235.18 332.53 L239.90 331.63 L244.62 330.76 L249.33 329.91 L254.05 329.10 L258.77 328.15 L263.49 327.18 L268.20 326.23 L272.92 325.30 L277.64 324.38 L282.36 323.48 L287.07 322.60 L291.79 321.74 L296.51 320.89 L301.23 320.06 L305.94 319.25 L310.66 318.45 L315.38 317.67 L320.10 316.90 L324.81 316.15 L329.53 315.42 L334.25 314.70 L338.97 314.00 L343.69 313.31 L348.40 312.63 L353.12 311.98 L357.84 311.33 L362.55 310.71 L367.27 310.09 L371.99 309.49 L376.71 308.91 L381.43 308.34 L386.14 307.78 L390.86 307.24 L395.58 306.71 L400.29 306.19 L405.01 305.69 L409.73 305.20 L414.45 304.73 L419.16 304.27 L423.88 303.82 L428.60 303.38 L433.32 302.96 L438.03 302.54 L442.75 302.14 L447.47 301.76 L452.19 301.38 L456.90 301.02 L461.62 300.67 L466.34 300.33 L471.06 300.00 L475.77 299.68 L480.49 299.37 L485.21 299.08 L489.93 298.80 L494.64 298.52 L499.36 298.26 L504.08 298.01 L508.80 297.76 L513.51 297.53 L518.23 297.31 L522.95 297.10 L527.67 296.90 L532.38 296.70 L537.10 296.52 L541.82 296.35 L546.54 296.18 L551.25 296.03 L555.97 295.88 L560.69 295.74 L565.41 295.61 L570.12 295.49 L574.84 295.38 L579.56 295.27 L584.28 295.18 L589.00 295.09 L593.71 295.01 L598.43 294.93 L603.15 294.87 L607.87 294.81 L612.58 294.76 L617.30 294.71 L622.02 294.68 L626.74 294.65 L631.45 294.62 L636.17 294.61 L640.89 294.59 L645.61 294.59 L650.32 294.59 L655.04 294.60 L659.76 294.61 L664.48 294.63 L669.19 294.65 L673.91 294.68 L678.63 294.71 L683.35 294.75 L688.06 294.80 L692.78 294.85 L697.50 294.90 L702.22 294.96 L706.93 295.02 L711.65 295.09 L716.37 295.16 L721.09 295.23 L725.80 295.31 L730.52 295.39 L735.24 295.48 L739.95 295.56 L744.67 295.66 L749.39 295.75 L754.11 295.85 L758.83 295.95 L763.54 296.05 L768.26 296.16 L772.98 296.26 L777.70 296.37 L782.41 296.49 L787.13 296.60 L791.85 296.72 L796.57 296.83 L801.28 296.95 L806.00 297.07" fill="none" stroke="#000" stroke-width="2.0" stroke-linecap="round" stroke-linejoin="round"/>
<path d="M51.20 390.90 L55.89 389.02 L60.58 387.16 L65.26 385.32 L69.95 383.51 L74.64 381.72 L79.33 379.96 L84.01 378.22 L88.70 376.50 L93.39 374.80 L98.08 373.13 L102.76 371.48 L107.45 369.85 L112.14 368.23 L116.83 366.57 L121.51 364.93 L126.20 363.29 L130.89 361.68 L135.57 360.08 L140.26 358.50 L144.95 356.94 L149.64 355.40 L154.32 353.89 L159.01 352.40 L163.70 350.94 L168.39 349.51 L173.07 348.11 L177.76 346.75 L182.45 345.41 L187.14 344.11 L191.82 342.85 L196.51 341.62 L201.20 340.43 L205.89 339.28 L210.57 338.17 L215.26 337.09 L219.95 336.05 L224.64 335.04 L229.32 334.07 L234.01 333.13 L238.70 332.23 L243.39 331.36 L248.07 330.51 L252.76 329.70 L257.45 328.75 L262.14 327.78 L266.82 326.83 L271.51 325.90 L276.20 324.98 L280.89 324.08 L285.57 323.20 L290.26 322.34 L294.95 321.49 L299.64 320.66 L304.32 319.85 L309.01 319.05 L313.70 318.27 L318.39 317.50 L323.07 316.75 L327.76 316.02 L332.45 315.30 L337.14 314.60 L341.82 313.91 L346.51 313.23 L351.20 312.58 L355.89 311.93 L360.57 311.31 L365.26 310.69 L369.95 310.09 L374.64 309.51 L379.32 308.94 L384.01 308.38 L388.70 307.84 L393.39 307.31 L398.07 306.79 L402.76 306.29 L407.45 305.80 L412.14 305.33 L416.82 304.87 L421.51 304.42 L426.20 303.98 L430.89 303.56 L435.57 303.14 L440.26 302.74 L444.95 302.36 L449.64 301.98 L454.32 301.62 L459.01 301.27 L463.70 300.93 L468.39 300.60 L473.07 300.28 L477.76 299.97 L482.45 299.68 L487.14 299.40 L491.82 299.12 L496.51 298.86 L501.20 298.61 L505.89 298.36 L510.57 298.13 L515.26 297.91 L519.95 297.70 L524.64 297.50 L529.33 297.30 L534.01 297.12 L538.70 296.95 L543.39 296.78 L548.08 296.63 L552.76 296.48 L557.45 296.34 L562.14 296.20 L566.83 296.04 L571.51 295.89 L576.20 295.75 L580.89 295.62 L585.58 295.50 L590.26 295.38 L594.95 295.27 L599.64 295.17 L604.33 295.08 L609.01 294.99 L613.70 294.91 L618.39 294.84 L623.08 294.77 L627.76 294.71 L632.45 294.66 L637.14 294.62 L641.83 294.59 L646.51 294.59 L651.20 294.60 L655.89 294.61 L660.58 294.63 L665.26 294.65 L669.95 294.68 L674.64 294.71 L679.33 294.75 L684.01 294.80 L688.70 294.85 L693.39 294.90 L698.08 294.96 L702.76 295.02 L707.45 295.09 L712.14 295.16 L716.83 295.23 L721.51 295.31 L726.20 295.39 L730.89 295.48 L735.58 295.56 L740.26 295.66 L744.95 295.75 L749.64 295.85 L754.33 295.95 L759.01 296.05 L763.70 296.16 L768.39 296.26 L773.08 296.37 L777.76 296.49 L782.45 296.60 L787.14 296.72 L791.83 296.83 L796.51 296.95 L801.20 297.07" fill="none" stroke="#000" stroke-width="2.0" stroke-linecap="round" stroke-linejoin="round"/>
<path d="M51.20 390.30 L53.93 389.08 L56.66 387.88 L59.39 386.69 L62.12 385.52 L64.85 384.37 L67.58 383.23 L70.31 382.11 L73.04 381.01 L75.77 379.92 L78.50 378.85 L81.23 377.79 L83.96 376.75 L86.69 375.73 L89.42 374.72 L92.15 373.73 L94.88 372.75 L97.61 371.79 L100.34 370.84 L103.07 369.91 L105.80 369.00 L108.53 368.09 L111.26 367.21 L113.99 366.33 L116.72 365.48 L119.45 364.63 L122.18 363.80 L124.91 362.99 L127.64 362.19 L130.37 361.40 L133.10 360.63 L135.83 359.87 L138.56 359.12 L141.29 358.39 L144.02 357.67 L146.75 356.97 L149.48 356.27 L152.21 355.60 L154.94 354.93 L157.67 354.28 L160.40 353.64 L163.13 353.01 L165.86 352.39 L168.59 351.79 L171.32 351.20 L174.05 350.62 L176.78 350.04 L179.51 349.32 L182.24 348.62 L184.97 347.91 L187.70 347.22 L190.43 346.53 L193.16 345.85 L195.89 345.17 L198.62 344.50 L201.35 343.83 L204.08 343.18 L206.81 342.52 L209.54 341.88 L212.27 341.24 L215.00 340.60" fill="none" stroke="#000" stroke-width="1.2" />
<path d="M51.20 390.30 L56.36 388.33 L61.52 386.40 L66.68 384.52 L71.84 382.68 L77.00 380.90 L82.16 379.16 L87.32 377.46 L92.48 375.81 L97.64 374.20 L102.80 372.63 L107.96 371.11 L113.12 369.63 L118.28 368.19 L123.44 366.79 L128.60 365.43 L133.76 364.11 L138.92 362.83 L144.08 361.59 L149.24 360.39 L154.40 359.22 L159.56 358.09 L164.72 357.00 L169.88 355.95 L175.04 354.93 L180.20 353.95 L185.36 353.00 L190.52 351.97 L195.68 350.82 L200.84 349.68 L206.00 348.57 L211.16 347.47 L216.32 346.39 L221.48 345.33 L226.64 344.28 L231.80 343.25 L236.96 342.24 L242.12 341.24 L247.28 340.26 L252.44 339.30 L257.60 338.36 L262.76 337.43 L267.92 336.51 L273.08 335.62 L278.24 334.74 L283.40 333.87 L288.56 333.02 L293.72 332.19 L298.88 331.37 L304.04 330.57 L309.20 329.78 L314.36 329.01 L319.52 328.25 L324.68 327.51 L329.84 326.78 L335.00 326.07 L340.16 325.37 L345.32 324.68 L350.48 324.01 L355.64 323.35 L360.80 322.71 L365.96 322.08 L371.12 321.47 L376.28 320.87 L381.44 320.28 L386.60 319.70 L391.76 319.14 L396.92 318.59 L402.08 318.06 L407.24 317.54 L412.40 317.03 L417.56 316.53 L422.72 316.04 L427.88 315.57 L433.04 315.11 L438.20 314.66 L443.36 314.22 L448.52 313.80 L453.68 313.39 L458.84 312.98 L464.00 312.59 L469.16 312.21 L474.32 311.85 L479.48 311.49 L484.64 311.14 L489.80 310.81 L494.96 310.48 L500.12 310.17 L505.28 309.86 L510.44 309.57 L515.60 309.29 L520.76 309.01 L525.92 308.75 L531.08 308.49 L536.24 308.25 L541.40 308.02 L546.56 307.79 L551.72 307.57 L556.88 307.37 L562.04 307.17 L567.20 306.98 L572.36 306.80 L577.52 306.63 L582.68 306.46 L587.84 306.31 L593.00 306.16 L598.16 306.02 L603.32 305.89 L608.48 305.76 L613.64 305.65 L618.80 305.54 L623.96 305.44 L629.12 305.35 L634.28 305.26 L639.44 305.18 L644.60 305.11 L649.76 305.04 L654.92 304.98 L660.08 304.93 L665.24 304.89 L670.40 304.85 L675.56 304.81 L680.72 304.79 L685.88 304.76 L691.04 304.75 L696.20 304.74 L701.36 304.73 L706.52 304.74 L711.68 304.74 L716.84 304.75 L722.00 304.77 L727.16 304.79 L732.32 304.82 L737.48 304.85 L742.64 304.88 L747.80 304.92 L752.96 304.96 L758.12 305.01 L763.28 305.06 L768.44 305.12 L773.60 305.18 L778.76 305.24 L783.92 305.31 L789.08 305.38 L794.24 305.45 L799.40 305.53 L804.56 305.61 L809.72 305.69 L814.88 305.77 L820.04 305.86 L825.20 305.95 L830.36 306.04 L835.52 306.14 L840.68 306.23 L845.84 306.33 L851.00 306.43 L856.16 306.53 L861.32 306.64 L866.48 306.74 L871.64 306.85 L876.80 306.95" fill="none" stroke="#000" stroke-width="2.4" stroke-linecap="round" stroke-linejoin="round"/>
<path d="M51.20 390.30 L55.92 388.30 L60.64 386.35 L65.35 384.45 L70.07 382.59 L74.79 380.78 L79.50 379.02 L84.22 377.30 L88.94 375.63 L93.66 374.00 L98.38 372.41 L103.09 370.87 L107.81 369.37 L112.53 367.91 L117.24 366.50 L121.96 365.12 L126.68 363.79 L131.40 362.49 L136.12 361.24 L140.83 360.02 L145.55 358.84 L150.27 357.70 L154.99 356.59 L159.70 355.53 L164.42 354.50 L169.14 353.50 L173.86 352.54 L178.57 351.50 L183.29 350.33 L188.01 349.18 L192.73 348.06 L197.44 346.94 L202.16 345.85 L206.88 344.77 L211.59 343.71 L216.31 342.67 L221.03 341.65 L225.75 340.64 L230.46 339.65 L235.18 338.67 L239.90 337.72 L244.62 336.78 L249.33 335.85 L254.05 334.94 L258.77 334.05 L263.49 333.18 L268.20 332.32 L272.92 331.47 L277.64 330.65 L282.36 329.83 L287.07 329.03 L291.79 328.25 L296.51 327.49 L301.23 326.73 L305.94 326.00 L310.66 325.27 L315.38 324.57 L320.10 323.87 L324.81 323.20 L329.53 322.53 L334.25 321.88 L338.97 321.24 L343.69 320.62 L348.40 320.01 L353.12 319.42 L357.84 318.84 L362.55 318.27 L367.27 317.71 L371.99 317.17 L376.71 316.64 L381.43 316.12 L386.14 315.62 L390.86 315.13 L395.58 314.65 L400.29 314.18 L405.01 313.73 L409.73 313.29 L414.45 312.86 L419.16 312.44 L423.88 312.03 L428.60 311.64 L433.32 311.25 L438.03 310.88 L442.75 310.52 L447.47 310.17 L452.19 309.83 L456.90 309.50 L461.62 309.18 L466.34 308.87 L471.06 308.58 L475.77 308.29 L480.49 308.01 L485.21 307.75 L489.93 307.49 L494.64 307.24 L499.36 307.00 L504.08 306.77 L508.80 306.56 L513.51 306.35 L518.23 306.14 L522.95 305.95 L527.67 305.77 L532.38 305.60 L537.10 305.43 L541.82 305.27 L546.54 305.12 L551.25 304.98 L555.97 304.85 L560.69 304.72 L565.41 304.61 L570.12 304.50 L574.84 304.40 L579.56 304.30 L584.28 304.21 L589.00 304.13 L593.71 304.06 L598.43 303.99 L603.15 303.93 L607.87 303.88 L612.58 303.84 L617.30 303.80 L622.02 303.76 L626.74 303.73 L631.45 303.71 L636.17 303.70 L640.89 303.69 L645.61 303.68 L650.32 303.68 L655.04 303.69 L659.76 303.70 L664.48 303.72 L669.19 303.74 L673.91 303.76 L678.63 303.79 L683.35 303.83 L688.06 303.87 L692.78 303.91 L697.50 303.96 L702.22 304.02 L706.93 304.07 L711.65 304.13 L716.37 304.20 L721.09 304.26 L725.80 304.33 L730.52 304.41 L735.24 304.48 L739.95 304.56 L744.67 304.65 L749.39 304.73 L754.11 304.82 L758.83 304.91 L763.54 305.00 L768.26 305.10 L772.98 305.20 L777.70 305.30 L782.41 305.40 L787.13 305.50 L791.85 305.61 L796.57 305.71 L801.28 305.82 L806.00 305.93" fill="none" stroke="#000" stroke-width="2.5" stroke-linecap="round" stroke-linejoin="round"/>
<path d="M51.20 390.30 L55.89 388.30 L60.58 386.35 L65.26 384.45 L69.95 382.59 L74.64 380.78 L79.33 379.02 L84.01 377.30 L88.70 375.63 L93.39 374.00 L98.08 372.41 L102.76 370.87 L107.45 369.37 L112.14 367.91 L116.83 366.50 L121.51 365.12 L126.20 363.79 L130.89 362.49 L135.57 361.24 L140.26 360.02 L144.95 358.84 L149.64 357.70 L154.32 356.59 L159.01 355.53 L163.70 354.50 L168.39 353.50 L173.07 352.54 L177.76 351.50 L182.45 350.33 L187.14 349.18 L191.82 348.06 L196.51 346.94 L201.20 345.85 L205.89 344.77 L210.57 343.71 L215.26 342.67 L219.95 341.65 L224.64 340.64 L229.32 339.65 L234.01 338.67 L238.70 337.72 L243.39 336.78 L248.07 335.85 L252.76 334.94 L257.45 334.05 L262.14 333.18 L266.82 332.32 L271.51 331.47 L276.20 330.65 L280.89 329.83 L285.57 329.03 L290.26 328.25 L294.95 327.49 L299.64 326.73 L304.32 326.00 L309.01 325.27 L313.70 324.57 L318.39 323.87 L323.07 323.20 L327.76 322.53 L332.45 321.88 L337.14 321.24 L341.82 320.62 L346.51 320.01 L351.20 319.42 L355.89 318.84 L360.57 318.27 L365.26 317.71 L369.95 317.17 L374.64 316.64 L379.32 316.12 L384.01 315.62 L388.70 315.13 L393.39 314.65 L398.07 314.18 L402.76 313.73 L407.45 313.29 L412.14 312.86 L416.82 312.44 L421.51 312.03 L426.20 311.64 L430.89 311.25 L435.57 310.88 L440.26 310.52 L444.95 310.17 L449.64 309.83 L454.32 309.50 L459.01 309.18 L463.70 308.87 L468.39 308.58 L473.07 308.29 L477.76 308.01 L482.45 307.75 L487.14 307.49 L491.82 307.24 L496.51 307.00 L501.20 306.77 L505.89 306.56 L510.57 306.35 L515.26 306.14 L519.95 305.95 L524.64 305.77 L529.33 305.60 L534.01 305.43 L538.70 305.27 L543.39 305.12 L548.08 304.98 L552.76 304.85 L557.45 304.72 L562.14 304.61 L566.83 304.50 L571.51 304.40 L576.20 304.30 L580.89 304.21 L585.58 304.13 L590.26 304.06 L594.95 303.99 L599.64 303.93 L604.33 303.88 L609.01 303.84 L613.70 303.80 L618.39 303.76 L623.08 303.73 L627.76 303.71 L632.45 303.70 L637.14 303.69 L641.83 303.68 L646.51 303.68 L651.20 303.69 L655.89 303.70 L660.58 303.72 L665.26 303.74 L669.95 303.76 L674.64 303.79 L679.33 303.83 L684.01 303.87 L688.70 303.91 L693.39 303.96 L698.08 304.02 L702.76 304.07 L707.45 304.13 L712.14 304.20 L716.83 304.26 L721.51 304.33 L726.20 304.41 L730.89 304.48 L735.58 304.56 L740.26 304.65 L744.95 304.73 L749.64 304.82 L754.33 304.91 L759.01 305.00 L763.70 305.10 L768.39 305.20 L773.08 305.30 L777.76 305.40 L782.45 305.50 L787.14 305.61 L791.83 305.71 L796.51 305.82 L801.20 305.93" fill="none" stroke="#000" stroke-width="2.5" stroke-linecap="round" stroke-linejoin="round"/>
<path d="M51.5 0V391.2" fill="none" stroke="#000" stroke-width="1.8" />
<path d="M959.2 0V391.2" fill="none" stroke="#000" stroke-width="1.8" />
<path d="M50.6 390.3H960.1" fill="none" stroke="#000" stroke-width="1.8" />
<path d="M52 0.5H958" fill="none" stroke="#808080" stroke-width="1" />
<path d="M44 390.30H51M44 367.34H51M44 344.38H51M44 321.42H51M44 298.46H51M44 275.50H51M44 252.54H51M44 229.58H51M44 206.62H51M44 183.66H51M44 160.70H51M44 137.74H51M44 114.78H51M44 91.82H51M44 68.86H51M959 390.30H966M959 367.34H966M959 344.38H966M959 321.42H966M959 298.46H966M959 275.50H966M51.2 390V397.5M119.3 390V397.5M187.4 390V397.5M255.5 390V397.5M323.6 390V397.5M391.7 390V397.5M459.8 390V397.5M527.9 390V397.5M596.0 390V397.5M664.1 390V397.5M732.2 390V397.5M800.3 390V397.5M868.4 390V397.5M936.5 390V397.5" fill="none" stroke="#000" stroke-width="2" />
<rect x="741.8" y="-5" width="217" height="33.5" fill="#fff" stroke="#808080" stroke-width="1"/>
<path d="M959.2 0V30" fill="none" stroke="#000" stroke-width="1.8" />
<text transform="translate(747.00 18.60) scale(1.0320 1)" text-anchor="start" fill="#000" font-size="16">NKE 50-160/177, 3*400 V</text>
<text transform="translate(39.30 395.60) scale(1.0000 1)" text-anchor="end" fill="#000" font-size="16">0</text>
<text transform="translate(39.30 372.64) scale(1.0000 1)" text-anchor="end" fill="#000" font-size="16">1</text>
<text transform="translate(39.30 349.68) scale(1.0000 1)" text-anchor="end" fill="#000" font-size="16">2</text>
<text transform="translate(39.30 326.72) scale(1.0000 1)" text-anchor="end" fill="#000" font-size="16">3</text>
<text transform="translate(39.30 303.76) scale(1.0000 1)" text-anchor="end" fill="#000" font-size="16">4</text>
<text transform="translate(39.30 280.80) scale(1.0000 1)" text-anchor="end" fill="#000" font-size="16">5</text>
<text transform="translate(39.30 257.84) scale(1.0000 1)" text-anchor="end" fill="#000" font-size="16">6</text>
<text transform="translate(39.30 234.88) scale(1.0000 1)" text-anchor="end" fill="#000" font-size="16">7</text>
<text transform="translate(39.30 211.92) scale(1.0000 1)" text-anchor="end" fill="#000" font-size="16">8</text>
<text transform="translate(39.30 188.96) scale(1.0000 1)" text-anchor="end" fill="#000" font-size="16">9</text>
<text transform="translate(39.30 166.00) scale(1.0000 1)" text-anchor="end" fill="#000" font-size="16">10</text>
<text transform="translate(39.30 143.04) scale(1.0000 1)" text-anchor="end" fill="#000" font-size="16">11</text>
<text transform="translate(39.30 120.08) scale(1.0000 1)" text-anchor="end" fill="#000" font-size="16">12</text>
<text transform="translate(39.30 97.12) scale(1.0000 1)" text-anchor="end" fill="#000" font-size="16">13</text>
<text transform="translate(39.30 74.16) scale(1.0000 1)" text-anchor="end" fill="#000" font-size="16">14</text>
<text transform="translate(970.90 394.80) scale(1.0000 1)" text-anchor="start" fill="#000" font-size="16">0</text>
<text transform="translate(970.90 371.84) scale(1.0000 1)" text-anchor="start" fill="#000" font-size="16">20</text>
<text transform="translate(970.90 348.88) scale(1.0000 1)" text-anchor="start" fill="#000" font-size="16">40</text>
<text transform="translate(970.90 325.92) scale(1.0000 1)" text-anchor="start" fill="#000" font-size="16">60</text>
<text transform="translate(970.90 302.96) scale(1.0000 1)" text-anchor="start" fill="#000" font-size="16">80</text>
<text transform="translate(970.90 280.00) scale(1.0000 1)" text-anchor="start" fill="#000" font-size="16">100</text>
<text transform="translate(50.50 412.30) scale(1.0350 1)" text-anchor="middle" fill="#000" font-size="16">0</text>
<text transform="translate(118.60 412.30) scale(1.0350 1)" text-anchor="middle" fill="#000" font-size="16">5</text>
<text transform="translate(186.70 412.30) scale(1.0350 1)" text-anchor="middle" fill="#000" font-size="16">10</text>
<text transform="translate(254.80 412.30) scale(1.0350 1)" text-anchor="middle" fill="#000" font-size="16">15</text>
<text transform="translate(322.90 412.30) scale(1.0350 1)" text-anchor="middle" fill="#000" font-size="16">20</text>
<text transform="translate(391.00 412.30) scale(1.0350 1)" text-anchor="middle" fill="#000" font-size="16">25</text>
<text transform="translate(459.10 412.30) scale(1.0350 1)" text-anchor="middle" fill="#000" font-size="16">30</text>
<text transform="translate(527.20 412.30) scale(1.0350 1)" text-anchor="middle" fill="#000" font-size="16">35</text>
<text transform="translate(595.30 412.30) scale(1.0350 1)" text-anchor="middle" fill="#000" font-size="16">40</text>
<text transform="translate(663.40 412.30) scale(1.0350 1)" text-anchor="middle" fill="#000" font-size="16">45</text>
<text transform="translate(731.50 412.30) scale(1.0350 1)" text-anchor="middle" fill="#000" font-size="16">50</text>
<text transform="translate(799.60 412.30) scale(1.0350 1)" text-anchor="middle" fill="#000" font-size="16">55</text>
<text transform="translate(867.70 412.30) scale(1.0350 1)" text-anchor="middle" fill="#000" font-size="16">60</text>
<text transform="translate(888.30 412.30) scale(1.0500 1)" text-anchor="start" fill="#000" font-size="16">Q [m<tspan font-size="10.6" dy="-3.6">3</tspan><tspan dy="3.6">/h]</tspan></text>
<text transform="translate(30.80 14.50) scale(1.0600 1)" text-anchor="middle" fill="#000" font-size="16">H</text>
<text transform="translate(30.40 34.50) scale(1.0600 1)" text-anchor="middle" fill="#000" font-size="16">[m]</text>
<text transform="translate(969.50 14.50) scale(1.0600 1)" text-anchor="start" fill="#000" font-size="16">eta</text>
<text transform="translate(968.80 34.50) scale(1.0600 1)" text-anchor="start" fill="#000" font-size="16">[%]</text>
<circle cx="680.5" cy="172.45" r="6.45" fill="#ffff00" stroke="#ff0000" stroke-width="1.8"/>
<path d="M51.20 390.30 L59.07 390.27 L66.93 390.16 L74.80 389.99 L82.66 389.75 L90.53 389.45 L98.39 389.07 L106.26 388.63 L114.12 388.12 L121.99 387.54 L129.86 386.89 L137.72 386.18 L145.59 385.39 L153.45 384.54 L161.32 383.62 L169.18 382.63 L177.05 381.58 L184.91 380.45 L192.78 379.26 L200.65 378.00 L208.51 376.67 L216.38 375.27 L224.24 373.80 L232.11 372.27 L239.97 370.67 L247.84 369.00 L255.70 367.26 L263.57 365.45 L271.44 363.58 L279.30 361.64 L287.17 359.63 L295.03 357.55 L302.90 355.40 L310.76 353.19 L318.63 350.90 L326.49 348.55 L334.36 346.13 L342.23 343.64 L350.09 341.09 L357.96 338.46 L365.82 335.77 L373.69 333.01 L381.55 330.18 L389.42 327.28 L397.28 324.32 L405.15 321.29 L413.02 318.18 L420.88 315.01 L428.75 311.78 L436.61 308.47 L444.48 305.10 L452.34 301.65 L460.21 298.14 L468.07 294.57 L475.94 290.92 L483.81 287.20 L491.67 283.42 L499.54 279.57 L507.40 275.65 L515.27 271.66 L523.13 267.61 L531.00 263.48 L538.86 259.29 L546.73 255.03 L554.60 250.70 L562.46 246.31 L570.33 241.84 L578.19 237.31 L586.06 232.71 L593.92 228.04 L601.79 223.30 L609.65 218.50 L617.52 213.62 L625.39 208.68 L633.25 203.67 L641.12 198.59 L648.98 193.45 L656.85 188.23 L664.71 182.95 L672.58 177.60 L680.44 172.18" fill="none" stroke="#ff2020" stroke-width="0.75" />
<path d="M52.4 172.5H680.9" fill="none" stroke="#000" stroke-width="1" />
<path d="M680.5 172.2V389.4" fill="none" stroke="#2a2a2a" stroke-width="1" />
<circle cx="680.4" cy="294.5" r="5.6" fill="#ff0000"/>
<circle cx="680.4" cy="302.9" r="5.6" fill="#ff0000"/>
<text transform="translate(54.60 439.00) scale(1.0450 1)" text-anchor="start" fill="#000" font-size="16">Q = 46.2 m<tspan font-size="10.6" dy="-3.6">3</tspan><tspan dy="3.6">/h</tspan></text>
<text transform="translate(54.20 460.60) scale(1.0500 1)" text-anchor="start" fill="#000" font-size="16">n = 100 % / 1454 rpm</text>
<text transform="translate(54.20 482.20) scale(1.0560 1)" text-anchor="start" fill="#000" font-size="16">Liquid temperature during operation = 20 °C</text>
<text transform="translate(54.20 503.80) scale(1.0420 1)" text-anchor="start" fill="#000" font-size="16">Eta pump = 83.5 %</text>
<text transform="translate(439.30 439.00) scale(1.0600 1)" text-anchor="start" fill="#000" font-size="16">H = 9.5 m</text>
<text transform="translate(439.30 460.60) scale(1.0600 1)" text-anchor="start" fill="#000" font-size="16">Pumped liquid = Water</text>
<text transform="translate(439.30 482.20) scale(1.0600 1)" text-anchor="start" fill="#000" font-size="16">Density = 998.2 kg/m<tspan font-size="10.6" dy="-3.6">3</tspan></text>
<text transform="translate(439.30 503.80) scale(1.0600 1)" text-anchor="start" fill="#000" font-size="16">Eta pump+motor+freq.converter = 75.6 %</text>
<path d="M52.00 641.28 L54.92 641.05 L57.85 640.81 L60.77 640.57 L63.69 640.32 L66.62 640.08 L69.54 639.84 L72.46 639.59 L75.38 639.34 L78.31 639.10 L81.23 638.85 L84.15 638.60 L87.08 638.34 L90.00 638.09 L92.92 637.84 L95.85 637.58 L98.77 637.32 L101.69 637.07 L104.62 636.81 L107.54 636.55 L110.46 636.29 L113.38 636.02 L116.31 635.76 L119.23 635.50 L122.15 635.23 L125.08 634.96 L128.00 634.69 L128.00 634.69 L127.57 636.27 L126.96 638.53 L126.25 641.08 L125.50 643.50 L124.75 645.72 L123.94 647.94 L123.07 650.19 L122.10 652.50 L121.28 654.41 L120.42 656.37 L119.50 658.35 L118.47 660.33 L117.30 662.30 L116.20 663.94 L115.00 665.61 L113.71 667.27 L112.36 668.90 L110.95 670.49 L109.50 672.00 L108.05 673.43 L106.60 674.80 L105.09 676.11 L103.48 677.39 L101.70 678.65 L99.70 679.90 L97.99 680.85 L96.10 681.82 L94.07 682.79 L91.97 683.74 L89.85 684.65 L87.78 685.51 L85.81 686.30 L84.00 687.00 L81.68 687.81 L79.37 688.50 L77.17 689.09 L75.19 689.59 L73.53 689.98 L72.30 690.30 L52.00 691.00Z" fill="#eef6ff" stroke="none" stroke-width="0" />
<path d="M72.30 690.30 L73.53 689.98 L75.19 689.59 L77.17 689.09 L79.37 688.50 L81.68 687.81 L84.00 687.00 L85.81 686.30 L87.78 685.51 L89.85 684.65 L91.97 683.74 L94.07 682.79 L96.10 681.82 L97.99 680.85 L99.70 679.90 L101.70 678.65 L103.48 677.39 L105.09 676.11 L106.60 674.80 L108.05 673.43 L109.50 672.00 L110.95 670.49 L112.36 668.90 L113.71 667.27 L115.00 665.61 L116.20 663.94 L117.30 662.30 L118.47 660.33 L119.50 658.35 L120.42 656.37 L121.28 654.41 L122.10 652.50 L123.07 650.19 L123.94 647.94 L124.75 645.72 L125.50 643.50 L126.25 641.08 L126.96 638.53 L127.57 636.27 L128.00 634.69 L130.99 634.42 L133.99 634.14 L136.98 633.86 L139.98 633.59 L142.97 633.30 L145.97 633.02 L148.96 632.74 L151.96 632.46 L154.95 632.17 L157.94 631.89 L160.94 631.60 L163.93 631.31 L166.93 631.03 L169.92 630.74 L172.92 630.45 L175.91 630.15 L178.90 629.86 L181.90 629.57 L184.89 629.27 L187.89 628.98 L190.88 628.68 L193.88 628.39 L196.87 628.09 L199.87 627.79 L202.86 627.49 L205.85 627.19 L208.85 626.89 L211.84 626.58 L214.84 626.28 L217.83 625.98 L220.83 625.67 L223.82 625.36 L226.82 625.06 L229.81 624.75 L232.80 624.44 L235.80 624.13 L238.79 623.82 L241.79 623.51 L244.78 623.20 L247.78 622.89 L250.77 622.58 L253.76 622.26 L256.76 621.95 L259.75 621.63 L262.75 621.32 L265.74 621.00 L268.74 620.68 L271.73 620.37 L274.73 620.05 L277.72 619.73 L280.71 619.41 L283.71 619.09 L286.70 618.77 L289.70 618.44 L292.69 618.12 L295.69 617.80 L298.68 617.48 L301.68 617.15 L304.67 616.83 L307.66 616.50 L310.66 616.18 L313.65 615.85 L316.65 615.52 L319.64 615.20 L322.64 614.87 L325.63 614.54 L328.62 614.21 L331.62 613.88 L334.61 613.55 L337.61 613.23 L340.60 612.89 L343.60 612.56 L346.59 612.23 L349.59 611.90 L352.58 611.57 L355.57 611.24 L358.57 610.90 L361.56 610.57 L364.56 610.24 L367.55 609.90 L370.55 609.57 L373.54 609.23 L376.54 608.90 L379.53 608.56 L382.52 608.23 L385.52 607.89 L388.51 607.56 L391.51 607.22 L394.50 606.88 L397.50 606.55 L400.49 606.21 L403.48 605.87 L406.48 605.54 L409.47 605.20 L412.47 604.86 L415.46 604.52 L418.46 604.18 L421.45 603.85 L424.45 603.51 L427.44 603.17 L430.43 602.83 L433.43 602.49 L436.42 602.15 L439.42 601.81 L442.41 601.47 L445.41 601.13 L448.40 600.79 L451.40 600.45 L454.39 600.11 L457.38 599.78 L460.38 599.44 L463.37 599.10 L466.37 598.76 L469.36 598.42 L472.36 598.08 L475.35 597.74 L478.34 597.40 L481.34 597.06 L484.33 596.72 L487.33 596.38 L490.32 596.04 L493.32 595.70 L496.31 595.36 L499.31 595.02 L502.30 594.68 L505.29 594.34 L508.29 594.00 L511.28 593.67 L514.28 593.33 L517.27 592.99 L520.27 592.65 L523.26 592.31 L526.26 591.97 L529.25 591.64 L532.24 591.30 L535.24 590.96 L538.23 590.62 L541.23 590.29 L544.22 589.95 L547.22 589.61 L550.21 589.28 L553.20 588.94 L556.20 588.61 L559.19 588.27 L562.19 587.94 L565.18 587.60 L568.18 587.27 L571.17 586.93 L574.17 586.60 L577.16 586.27 L580.15 585.93 L583.15 585.60 L586.14 585.27 L589.14 584.94 L592.13 584.60 L595.13 584.27 L598.12 583.94 L601.12 583.61 L604.11 583.28 L607.10 582.95 L610.10 582.62 L613.09 582.30 L616.09 581.97 L619.08 581.64 L622.08 581.31 L625.07 580.99 L628.06 580.66 L631.06 580.34 L634.05 580.01 L637.05 579.69 L640.04 579.36 L643.04 579.04 L646.03 578.72 L649.03 578.40 L652.02 578.08 L655.01 577.75 L658.01 577.43 L661.00 577.12 L664.00 576.80 L666.99 576.48 L669.99 576.16 L672.98 575.84 L675.98 575.53 L678.97 575.21 L681.96 574.90 L684.96 574.58 L687.95 574.27 L690.95 573.96 L693.94 573.65 L696.94 573.33 L699.93 573.02 L702.92 572.71 L705.92 572.41 L708.91 572.10 L711.91 571.79 L714.90 571.48 L717.90 571.18 L720.89 570.87 L723.89 570.57 L726.88 570.27 L729.87 569.97 L732.87 569.66 L735.86 569.36 L738.86 569.06 L741.85 568.77 L744.85 568.47 L747.84 568.17 L750.84 567.87 L753.83 567.58 L756.82 567.29 L759.82 566.99 L762.81 566.70 L765.81 566.41 L768.80 566.12 L771.80 565.83 L774.79 565.54 L777.78 565.26 L780.78 564.97 L783.77 564.68 L786.77 564.40 L789.76 564.12 L792.76 563.84 L795.75 563.56 L798.75 563.28 L801.74 563.00 L804.73 562.72 L807.73 562.44 L810.72 562.17 L813.72 561.89 L816.71 561.62 L819.71 561.35 L822.70 561.08 L825.70 560.81 L828.69 560.54 L831.68 560.28 L834.68 560.01 L837.67 559.74 L840.67 559.48 L843.66 559.22 L846.66 558.96 L849.65 558.70 L852.64 558.44 L855.64 558.18 L858.63 557.93 L861.63 557.67 L864.62 557.42 L867.62 557.17 L870.61 556.92 L873.61 556.67 L876.60 556.42 L874.61 557.44 L872.28 558.64 L869.64 560.01 L866.72 561.53 L863.55 563.19 L860.15 564.97 L856.55 566.86 L852.77 568.83 L848.85 570.88 L844.82 572.97 L840.69 575.11 L836.50 577.26 L832.27 579.42 L828.03 581.57 L823.81 583.69 L819.64 585.77 L815.53 587.78 L811.53 589.72 L807.66 591.56 L803.94 593.30 L800.40 594.90 L796.36 596.67 L792.27 598.42 L788.15 600.12 L784.02 601.79 L779.87 603.42 L775.74 605.02 L771.63 606.58 L767.56 608.10 L763.55 609.57 L759.60 611.01 L755.74 612.40 L751.97 613.75 L748.31 615.06 L744.78 616.32 L741.39 617.54 L738.15 618.71 L735.09 619.83 L732.20 620.90 L726.48 623.06 L721.72 624.86 L717.68 626.39 L714.12 627.72 L710.81 628.94 L707.51 630.10 L703.98 631.30 L700.00 632.60 L696.31 633.78 L692.78 634.87 L689.32 635.91 L685.80 636.94 L682.12 637.98 L678.16 639.08 L673.81 640.26 L668.96 641.55 L663.50 643.00 L660.32 643.84 L656.94 644.75 L653.38 645.70 L649.67 646.70 L645.81 647.73 L641.83 648.79 L637.74 649.87 L633.58 650.97 L629.35 652.07 L625.07 653.17 L620.77 654.26 L616.46 655.34 L612.17 656.39 L607.90 657.41 L603.69 658.39 L599.55 659.32 L595.50 660.20 L591.50 661.04 L587.50 661.86 L583.50 662.66 L579.50 663.44 L575.50 664.19 L571.50 664.93 L567.50 665.65 L563.50 666.36 L559.50 667.04 L555.50 667.71 L551.50 668.35 L547.50 668.99 L543.50 669.60 L539.50 670.20 L535.50 670.78 L531.50 671.35 L527.50 671.90 L523.50 672.43 L519.50 672.94 L515.50 673.42 L511.50 673.88 L507.50 674.32 L503.50 674.74 L499.50 675.15 L495.50 675.54 L491.50 675.92 L487.50 676.29 L483.50 676.65 L479.50 677.00 L475.50 677.34 L471.50 677.68 L467.50 678.02 L463.50 678.36 L459.50 678.70 L455.50 679.04 L451.50 679.36 L447.51 679.68 L443.51 679.98 L439.52 680.28 L435.52 680.57 L431.52 680.86 L427.53 681.14 L423.53 681.41 L419.54 681.68 L415.54 681.95 L411.54 682.21 L407.53 682.47 L403.53 682.73 L399.52 682.98 L395.51 683.24 L391.50 683.50 L387.44 683.76 L383.29 684.02 L379.08 684.28 L374.81 684.54 L370.52 684.80 L366.21 685.06 L361.91 685.31 L357.63 685.56 L353.39 685.81 L349.20 686.05 L345.09 686.28 L341.07 686.51 L337.17 686.73 L333.39 686.94 L329.76 687.14 L326.29 687.32 L323.00 687.50 L317.67 687.78 L312.54 688.03 L307.65 688.26 L303.03 688.46 L298.72 688.65 L294.75 688.82 L291.16 688.96 L287.98 689.09 L285.25 689.20 L283.00 689.30 L72.30 690.30Z" fill="#d0dce8" stroke="none" stroke-width="0" />
<path d="M119.5 519V691M187.5 519V691M255.5 519V691M323.5 519V691M391.5 519V691M459.5 519V691M527.5 519V691M596.5 519V691M664.5 519V691M732.5 519V691M800.5 519V691M868.5 519V691M936.5 519V691" fill="none" stroke="#cbcccd" stroke-width="1" />
<path d="M52.4 663.10H957.6M52.4 634.10H957.6M52.4 605.10H957.6M52.4 576.10H957.6M52.4 547.10H957.6" fill="none" stroke="#b6b8ba" stroke-width="1.5" stroke-opacity="0.52"/>
<path d="M51.00 641.36 L53.96 641.12 L56.92 640.88 L59.88 640.64 L62.85 640.39 L65.81 640.15 L68.77 639.90 L71.73 639.65 L74.69 639.40 L77.65 639.15 L80.62 638.90 L83.58 638.65 L86.54 638.39 L89.50 638.13 L92.46 637.88 L95.42 637.62 L98.38 637.36 L101.35 637.10 L104.31 636.83 L107.27 636.57 L110.23 636.31 L113.19 636.04 L116.15 635.77 L119.12 635.51 L122.08 635.24 L125.04 634.97 L128.00 634.69" fill="none" stroke="#0e4a88" stroke-width="0.85" />
<path d="M128.00 634.69 L130.99 634.42 L133.99 634.14 L136.98 633.86 L139.98 633.59 L142.97 633.30 L145.97 633.02 L148.96 632.74 L151.96 632.46 L154.95 632.17 L157.94 631.89 L160.94 631.60 L163.93 631.31 L166.93 631.03 L169.92 630.74 L172.92 630.45 L175.91 630.15 L178.90 629.86 L181.90 629.57 L184.89 629.27 L187.89 628.98 L190.88 628.68 L193.88 628.39 L196.87 628.09 L199.87 627.79 L202.86 627.49 L205.85 627.19 L208.85 626.89 L211.84 626.58 L214.84 626.28 L217.83 625.98 L220.83 625.67 L223.82 625.36 L226.82 625.06 L229.81 624.75 L232.80 624.44 L235.80 624.13 L238.79 623.82 L241.79 623.51 L244.78 623.20 L247.78 622.89 L250.77 622.58 L253.76 622.26 L256.76 621.95 L259.75 621.63 L262.75 621.32 L265.74 621.00 L268.74 620.68 L271.73 620.37 L274.73 620.05 L277.72 619.73 L280.71 619.41 L283.71 619.09 L286.70 618.77 L289.70 618.44 L292.69 618.12 L295.69 617.80 L298.68 617.48 L301.68 617.15 L304.67 616.83 L307.66 616.50 L310.66 616.18 L313.65 615.85 L316.65 615.52 L319.64 615.20 L322.64 614.87 L325.63 614.54 L328.62 614.21 L331.62 613.88 L334.61 613.55 L337.61 613.23 L340.60 612.89 L343.60 612.56 L346.59 612.23 L349.59 611.90 L352.58 611.57 L355.57 611.24 L358.57 610.90 L361.56 610.57 L364.56 610.24 L367.55 609.90 L370.55 609.57 L373.54 609.23 L376.54 608.90 L379.53 608.56 L382.52 608.23 L385.52 607.89 L388.51 607.56 L391.51 607.22 L394.50 606.88 L397.50 606.55 L400.49 606.21 L403.48 605.87 L406.48 605.54 L409.47 605.20 L412.47 604.86 L415.46 604.52 L418.46 604.18 L421.45 603.85 L424.45 603.51 L427.44 603.17 L430.43 602.83 L433.43 602.49 L436.42 602.15 L439.42 601.81 L442.41 601.47 L445.41 601.13 L448.40 600.79 L451.40 600.45 L454.39 600.11 L457.38 599.78 L460.38 599.44 L463.37 599.10 L466.37 598.76 L469.36 598.42 L472.36 598.08 L475.35 597.74 L478.34 597.40 L481.34 597.06 L484.33 596.72 L487.33 596.38 L490.32 596.04 L493.32 595.70 L496.31 595.36 L499.31 595.02 L502.30 594.68 L505.29 594.34 L508.29 594.00 L511.28 593.67 L514.28 593.33 L517.27 592.99 L520.27 592.65 L523.26 592.31 L526.26 591.97 L529.25 591.64 L532.24 591.30 L535.24 590.96 L538.23 590.62 L541.23 590.29 L544.22 589.95 L547.22 589.61 L550.21 589.28 L553.20 588.94 L556.20 588.61 L559.19 588.27 L562.19 587.94 L565.18 587.60 L568.18 587.27 L571.17 586.93 L574.17 586.60 L577.16 586.27 L580.15 585.93 L583.15 585.60 L586.14 585.27 L589.14 584.94 L592.13 584.60 L595.13 584.27 L598.12 583.94 L601.12 583.61 L604.11 583.28 L607.10 582.95 L610.10 582.62 L613.09 582.30 L616.09 581.97 L619.08 581.64 L622.08 581.31 L625.07 580.99 L628.06 580.66 L631.06 580.34 L634.05 580.01 L637.05 579.69 L640.04 579.36 L643.04 579.04 L646.03 578.72 L649.03 578.40 L652.02 578.08 L655.01 577.75 L658.01 577.43 L661.00 577.12 L664.00 576.80 L666.99 576.48 L669.99 576.16 L672.98 575.84 L675.98 575.53 L678.97 575.21 L681.96 574.90 L684.96 574.58 L687.95 574.27 L690.95 573.96 L693.94 573.65 L696.94 573.33 L699.93 573.02 L702.92 572.71 L705.92 572.41 L708.91 572.10 L711.91 571.79 L714.90 571.48 L717.90 571.18 L720.89 570.87 L723.89 570.57 L726.88 570.27 L729.87 569.97 L732.87 569.66 L735.86 569.36 L738.86 569.06 L741.85 568.77 L744.85 568.47 L747.84 568.17 L750.84 567.87 L753.83 567.58 L756.82 567.29 L759.82 566.99 L762.81 566.70 L765.81 566.41 L768.80 566.12 L771.80 565.83 L774.79 565.54 L777.78 565.26 L780.78 564.97 L783.77 564.68 L786.77 564.40 L789.76 564.12 L792.76 563.84 L795.75 563.56 L798.75 563.28 L801.74 563.00 L804.73 562.72 L807.73 562.44 L810.72 562.17 L813.72 561.89 L816.71 561.62 L819.71 561.35 L822.70 561.08 L825.70 560.81 L828.69 560.54 L831.68 560.28 L834.68 560.01 L837.67 559.74 L840.67 559.48 L843.66 559.22 L846.66 558.96 L849.65 558.70 L852.64 558.44 L855.64 558.18 L858.63 557.93 L861.63 557.67 L864.62 557.42 L867.62 557.17 L870.61 556.92 L873.61 556.67 L876.60 556.42" fill="none" stroke="#0e4a88" stroke-width="2.3" stroke-linecap="round" stroke-linejoin="round"/>
<path d="M51.00 646.54 L53.99 646.32 L56.98 646.10 L59.97 645.87 L62.97 645.65 L65.96 645.42 L68.95 645.19 L71.94 644.96 L74.93 644.73 L77.92 644.50 L80.91 644.26 L83.90 644.03 L86.90 643.79 L89.89 643.55 L92.88 643.31 L95.87 643.07 L98.86 642.83 L101.85 642.59 L104.84 642.34 L107.83 642.09 L110.83 641.85 L113.82 641.60 L116.81 641.35 L119.80 641.10 L122.79 640.84 L125.78 640.59 L128.77 640.34 L131.77 640.08 L134.76 639.82 L137.75 639.56 L140.74 639.31 L143.73 639.04 L146.72 638.78 L149.71 638.52 L152.70 638.26 L155.70 637.99 L158.69 637.73 L161.68 637.46 L164.67 637.19 L167.66 636.92 L170.65 636.65 L173.64 636.38 L176.63 636.11 L179.63 635.83 L182.62 635.56 L185.61 635.29 L188.60 635.01 L191.59 634.73 L194.58 634.46 L197.57 634.18 L200.57 633.90 L203.56 633.62 L206.55 633.33 L209.54 633.05 L212.53 632.77 L215.52 632.49 L218.51 632.20 L221.50 631.92 L224.50 631.63 L227.49 631.34 L230.48 631.05 L233.47 630.77 L236.46 630.48 L239.45 630.19 L242.44 629.90 L245.43 629.60 L248.43 629.31 L251.42 629.02 L254.41 628.73 L257.40 628.43 L260.39 628.14 L263.38 627.84 L266.37 627.54 L269.37 627.25 L272.36 626.95 L275.35 626.65 L278.34 626.35 L281.33 626.05 L284.32 625.75 L287.31 625.45 L290.30 625.15 L293.30 624.85 L296.29 624.55 L299.28 624.25 L302.27 623.95 L305.26 623.64 L308.25 623.34 L311.24 623.03 L314.23 622.73 L317.23 622.42 L320.22 622.12 L323.21 621.81 L326.20 621.51 L329.19 621.20 L332.18 620.89 L335.17 620.59 L338.17 620.28 L341.16 619.97 L344.15 619.66 L347.14 619.35 L350.13 619.05 L353.12 618.74 L356.11 618.43 L359.10 618.12 L362.10 617.81 L365.09 617.50 L368.08 617.19 L371.07 616.88 L374.06 616.57 L377.05 616.26 L380.04 615.95 L383.03 615.63 L386.03 615.32 L389.02 615.01 L392.01 614.70 L395.00 614.39 L397.99 614.08 L400.98 613.76 L403.97 613.45 L406.97 613.14 L409.96 612.83 L412.95 612.52 L415.94 612.21 L418.93 611.89 L421.92 611.58 L424.91 611.27 L427.90 610.96 L430.90 610.65 L433.89 610.33 L436.88 610.02 L439.87 609.71 L442.86 609.40 L445.85 609.09 L448.84 608.78 L451.83 608.46 L454.83 608.15 L457.82 607.84 L460.81 607.53 L463.80 607.22 L466.79 606.91 L469.78 606.60 L472.77 606.29 L475.77 605.98 L478.76 605.67 L481.75 605.36 L484.74 605.05 L487.73 604.74 L490.72 604.43 L493.71 604.13 L496.70 603.82 L499.70 603.51 L502.69 603.20 L505.68 602.90 L508.67 602.59 L511.66 602.28 L514.65 601.98 L517.64 601.67 L520.63 601.37 L523.63 601.06 L526.62 600.76 L529.61 600.46 L532.60 600.15 L535.59 599.85 L538.58 599.55 L541.57 599.25 L544.57 598.94 L547.56 598.64 L550.55 598.34 L553.54 598.04 L556.53 597.74 L559.52 597.45 L562.51 597.15 L565.50 596.85 L568.50 596.55 L571.49 596.26 L574.48 595.96 L577.47 595.67 L580.46 595.37 L583.45 595.08 L586.44 594.79 L589.43 594.49 L592.43 594.20 L595.42 593.91 L598.41 593.62 L601.40 593.33 L604.39 593.04 L607.38 592.76 L610.37 592.47 L613.37 592.18 L616.36 591.90 L619.35 591.61 L622.34 591.33 L625.33 591.05 L628.32 590.76 L631.31 590.48 L634.30 590.20 L637.30 589.92 L640.29 589.64 L643.28 589.36 L646.27 589.09 L649.26 588.81 L652.25 588.54 L655.24 588.26 L658.23 587.99 L661.23 587.72 L664.22 587.45 L667.21 587.18 L670.20 586.91 L673.19 586.64 L676.18 586.37 L679.17 586.11 L682.17 585.84 L685.16 585.58 L688.15 585.31 L691.14 585.05 L694.13 584.79 L697.12 584.53 L700.11 584.28 L703.10 584.02 L706.10 583.76 L709.09 583.51 L712.08 583.25 L715.07 583.00 L718.06 582.75 L721.05 582.50 L724.04 582.25 L727.03 582.00 L730.03 581.76 L733.02 581.51 L736.01 581.27 L739.00 581.03 L741.99 580.79 L744.98 580.55 L747.97 580.31 L750.97 580.07 L753.96 579.83 L756.95 579.60 L759.94 579.37 L762.93 579.14 L765.92 578.91 L768.91 578.68 L771.90 578.45 L774.90 578.22 L777.89 578.00 L780.88 577.78 L783.87 577.55 L786.86 577.33 L789.85 577.12 L792.84 576.90 L795.83 576.68 L798.83 576.47 L801.82 576.26 L804.81 576.05 L807.80 575.84 L810.79 575.63 L813.78 575.42 L816.77 575.22 L819.77 575.02 L822.76 574.81 L825.75 574.62 L828.74 574.42 L831.73 574.22 L834.72 574.03 L837.71 573.83 L840.70 573.64 L843.70 573.45 L846.69 573.27 L849.68 573.08 L852.67 572.90 L855.66 572.71 L858.65 572.53 L861.64 572.35 L864.63 572.18 L867.63 572.00 L870.62 571.83 L873.61 571.66 L876.60 571.49" fill="none" stroke="#0e4a88" stroke-width="0.9" />
<path d="M51.00 653.63 L53.92 653.45 L56.85 653.27 L59.77 653.09 L62.70 652.90 L65.62 652.71 L68.55 652.53 L71.47 652.34 L74.40 652.15 L77.33 651.96 L80.25 651.77 L83.18 651.58 L86.10 651.38 L89.03 651.19 L91.95 650.99 L94.88 650.79 L97.80 650.60 L100.72 650.40 L103.65 650.20 L106.57 650.00 L109.50 649.80 L112.43 649.59 L115.35 649.39 L118.28 649.18 L121.20 648.98" fill="none" stroke="#0e4a88" stroke-width="0.85" />
<path d="M121.20 648.98 L124.19 648.77 L127.18 648.55 L130.17 648.34 L133.16 648.13 L136.15 647.91 L139.14 647.70 L142.14 647.48 L145.13 647.26 L148.12 647.04 L151.11 646.82 L154.10 646.60 L157.09 646.38 L160.08 646.15 L163.07 645.93 L166.06 645.71 L169.05 645.48 L172.04 645.25 L175.03 645.03 L178.03 644.80 L181.02 644.57 L184.01 644.34 L187.00 644.11 L189.99 643.88 L192.98 643.64 L195.97 643.41 L198.96 643.18 L201.95 642.94 L204.94 642.71 L207.93 642.47 L210.92 642.23 L213.92 642.00 L216.91 641.76 L219.90 641.52 L222.89 641.28 L225.88 641.04 L228.87 640.79 L231.86 640.55 L234.85 640.31 L237.84 640.06 L240.83 639.82 L243.82 639.57 L246.81 639.33 L249.81 639.08 L252.80 638.83 L255.79 638.59 L258.78 638.34 L261.77 638.09 L264.76 637.84 L267.75 637.59 L270.74 637.33 L273.73 637.08 L276.72 636.83 L279.71 636.58 L282.70 636.32 L285.70 636.07 L288.69 635.81 L291.68 635.56 L294.67 635.30 L297.66 635.05 L300.65 634.79 L303.64 634.53 L306.63 634.27 L309.62 634.01 L312.61 633.75 L315.60 633.49 L318.59 633.23 L321.59 632.97 L324.58 632.71 L327.57 632.45 L330.56 632.19 L333.55 631.92 L336.54 631.66 L339.53 631.40 L342.52 631.13 L345.51 630.87 L348.50 630.60 L351.49 630.34 L354.48 630.07 L357.48 629.81 L360.47 629.54 L363.46 629.27 L366.45 629.00 L369.44 628.74 L372.43 628.47 L375.42 628.20 L378.41 627.93 L381.40 627.66 L384.39 627.39 L387.38 627.12 L390.37 626.85 L393.37 626.58 L396.36 626.31 L399.35 626.04 L402.34 625.77 L405.33 625.50 L408.32 625.22 L411.31 624.95 L414.30 624.68 L417.29 624.41 L420.28 624.13 L423.27 623.86 L426.26 623.59 L429.26 623.31 L432.25 623.04 L435.24 622.76 L438.23 622.49 L441.22 622.22 L444.21 621.94 L447.20 621.67 L450.19 621.39 L453.18 621.12 L456.17 620.84 L459.16 620.57 L462.15 620.29 L465.15 620.01 L468.14 619.74 L471.13 619.46 L474.12 619.19 L477.11 618.91 L480.10 618.63 L483.09 618.36 L486.08 618.08 L489.07 617.80 L492.06 617.53 L495.05 617.25 L498.04 616.97 L501.04 616.70 L504.03 616.42 L507.02 616.14 L510.01 615.87 L513.00 615.59 L515.99 615.31 L518.98 615.04 L521.97 614.76 L524.96 614.48 L527.95 614.21 L530.94 613.93 L533.93 613.65 L536.93 613.38 L539.92 613.10 L542.91 612.82 L545.90 612.55 L548.89 612.27 L551.88 611.99 L554.87 611.72 L557.86 611.44 L560.85 611.17 L563.84 610.89 L566.83 610.62 L569.82 610.34 L572.82 610.07 L575.81 609.79 L578.80 609.51 L581.79 609.24 L584.78 608.97 L587.77 608.69 L590.76 608.42 L593.75 608.14 L596.74 607.87 L599.73 607.60 L602.72 607.32 L605.71 607.05 L608.71 606.78 L611.70 606.50 L614.69 606.23 L617.68 605.96 L620.67 605.69 L623.66 605.42 L626.65 605.14 L629.64 604.87 L632.63 604.60 L635.62 604.33 L638.61 604.06 L641.60 603.79 L644.60 603.52 L647.59 603.25 L650.58 602.99 L653.57 602.72 L656.56 602.45 L659.55 602.18 L662.54 601.92 L665.53 601.65 L668.52 601.38 L671.51 601.12 L674.50 600.85 L677.49 600.59 L680.49 600.32 L683.48 600.06 L686.47 599.79 L689.46 599.53 L692.45 599.27 L695.44 599.00 L698.43 598.74 L701.42 598.48 L704.41 598.22 L707.40 597.96 L710.39 597.70 L713.38 597.44 L716.38 597.18 L719.37 596.92 L722.36 596.66 L725.35 596.41 L728.34 596.15 L731.33 595.89 L734.32 595.64 L737.31 595.38 L740.30 595.13 L743.29 594.87 L746.28 594.62 L749.27 594.37 L752.27 594.12 L755.26 593.86 L758.25 593.61 L761.24 593.36 L764.23 593.11 L767.22 592.86 L770.21 592.62 L773.20 592.37 L776.19 592.12 L779.18 591.88 L782.17 591.63 L785.16 591.38 L788.16 591.14 L791.15 590.90 L794.14 590.65 L797.13 590.41 L800.12 590.17 L803.11 589.93 L806.10 589.69" fill="none" stroke="#0e4a88" stroke-width="2.9" stroke-linecap="round" stroke-linejoin="round"/>
<path d="M120.50 650.06 L123.50 649.85 L126.50 649.65 L129.50 649.44 L132.50 649.23 L135.50 649.02 L138.50 648.81 L141.50 648.59 L144.50 648.38 L147.50 648.17 L150.50 647.95 L153.50 647.74 L156.49 647.52 L159.49 647.30 L162.49 647.08 L165.49 646.86 L168.49 646.64 L171.49 646.42 L174.49 646.20 L177.49 645.97 L180.49 645.75 L183.49 645.52 L186.49 645.30 L189.49 645.07 L192.49 644.85 L195.49 644.62 L198.49 644.39 L201.49 644.16 L204.49 643.93 L207.49 643.70 L210.49 643.46 L213.49 643.23 L216.49 643.00 L219.49 642.76 L222.49 642.53 L225.48 642.29 L228.48 642.06 L231.48 641.82 L234.48 641.58 L237.48 641.34 L240.48 641.10 L243.48 640.86 L246.48 640.62 L249.48 640.38 L252.48 640.14 L255.48 639.89 L258.48 639.65 L261.48 639.41 L264.48 639.16 L267.48 638.92 L270.48 638.67 L273.48 638.42 L276.48 638.18 L279.48 637.93 L282.48 637.68 L285.48 637.43 L288.48 637.18 L291.47 636.93 L294.47 636.68 L297.47 636.43 L300.47 636.18 L303.47 635.93 L306.47 635.67 L309.47 635.42 L312.47 635.17 L315.47 634.91 L318.47 634.66 L321.47 634.40 L324.47 634.15 L327.47 633.89 L330.47 633.63 L333.47 633.38 L336.47 633.12 L339.47 632.86 L342.47 632.60 L345.47 632.34 L348.47 632.08 L351.47 631.82 L354.47 631.56 L357.47 631.30 L360.46 631.04 L363.46 630.78 L366.46 630.52 L369.46 630.26 L372.46 629.99 L375.46 629.73 L378.46 629.47 L381.46 629.20 L384.46 628.94 L387.46 628.67 L390.46 628.41 L393.46 628.15 L396.46 627.88 L399.46 627.61 L402.46 627.35 L405.46 627.08 L408.46 626.82 L411.46 626.55 L414.46 626.28 L417.46 626.02 L420.46 625.75 L423.46 625.48 L426.46 625.21 L429.45 624.95 L432.45 624.68 L435.45 624.41 L438.45 624.14 L441.45 623.87 L444.45 623.60 L447.45 623.33 L450.45 623.06 L453.45 622.80 L456.45 622.53 L459.45 622.26 L462.45 621.99 L465.45 621.72 L468.45 621.45 L471.45 621.18 L474.45 620.91 L477.45 620.64 L480.45 620.36 L483.45 620.09 L486.45 619.82 L489.45 619.55 L492.45 619.28 L495.44 619.01 L498.44 618.74 L501.44 618.47 L504.44 618.20 L507.44 617.93 L510.44 617.66 L513.44 617.39 L516.44 617.12 L519.44 616.84 L522.44 616.57 L525.44 616.30 L528.44 616.03 L531.44 615.76 L534.44 615.49 L537.44 615.22 L540.44 614.95 L543.44 614.68 L546.44 614.41 L549.44 614.14 L552.44 613.87 L555.44 613.60 L558.44 613.33 L561.44 613.06 L564.43 612.79 L567.43 612.52 L570.43 612.25 L573.43 611.98 L576.43 611.71 L579.43 611.44 L582.43 611.17 L585.43 610.90 L588.43 610.63 L591.43 610.37 L594.43 610.10 L597.43 609.83 L600.43 609.56 L603.43 609.29 L606.43 609.03 L609.43 608.76 L612.43 608.49 L615.43 608.23 L618.43 607.96 L621.43 607.69 L624.43 607.43 L627.43 607.16 L630.43 606.90 L633.42 606.63 L636.42 606.37 L639.42 606.10 L642.42 605.84 L645.42 605.58 L648.42 605.31 L651.42 605.05 L654.42 604.79 L657.42 604.53 L660.42 604.26 L663.42 604.00 L666.42 603.74 L669.42 603.48 L672.42 603.22 L675.42 602.96 L678.42 602.70 L681.42 602.44 L684.42 602.18 L687.42 601.93 L690.42 601.67 L693.42 601.41 L696.42 601.15 L699.41 600.90 L702.41 600.64 L705.41 600.39 L708.41 600.13 L711.41 599.88 L714.41 599.62 L717.41 599.37 L720.41 599.12 L723.41 598.87 L726.41 598.61 L729.41 598.36 L732.41 598.11 L735.41 597.86 L738.41 597.61 L741.41 597.36 L744.41 597.11 L747.41 596.87 L750.41 596.62 L753.41 596.37 L756.41 596.13 L759.41 595.88 L762.41 595.64 L765.41 595.39 L768.40 595.15 L771.40 594.91 L774.40 594.67 L777.40 594.42 L780.40 594.18 L783.40 593.94 L786.40 593.70 L789.40 593.46 L792.40 593.23 L795.40 592.99 L798.40 592.75 L801.40 592.52" fill="none" stroke="#0e4a88" stroke-width="2.9" stroke-linecap="round" stroke-linejoin="round"/>
<path d="M51.00 657.91 L53.92 657.74 L56.85 657.57 L59.77 657.39 L62.70 657.22 L65.62 657.04 L68.55 656.87 L71.47 656.69 L74.40 656.51 L77.33 656.33 L80.25 656.15 L83.18 655.96 L86.10 655.78 L89.03 655.60 L91.95 655.41 L94.88 655.23 L97.80 655.04 L100.72 654.85 L103.65 654.66 L106.57 654.47 L109.50 654.28 L112.43 654.09 L115.35 653.90 L118.28 653.71 L121.20 653.51" fill="none" stroke="#0e4a88" stroke-width="0.85" />
<path d="M121.20 653.51 L124.19 653.32 L127.18 653.12 L130.17 652.91 L133.16 652.71 L136.15 652.51 L139.14 652.31 L142.14 652.10 L145.13 651.90 L148.12 651.69 L151.11 651.48 L154.10 651.28 L157.09 651.07 L160.08 650.86 L163.07 650.65 L166.06 650.44 L169.05 650.23 L172.04 650.01 L175.03 649.80 L178.03 649.59 L181.02 649.37 L184.01 649.16 L187.00 648.94 L189.99 648.72 L192.98 648.51 L195.97 648.29 L198.96 648.07 L201.95 647.85 L204.94 647.63 L207.93 647.41 L210.92 647.19 L213.92 646.96 L216.91 646.74 L219.90 646.52 L222.89 646.29 L225.88 646.07 L228.87 645.84 L231.86 645.61 L234.85 645.39 L237.84 645.16 L240.83 644.93 L243.82 644.70 L246.81 644.47 L249.81 644.24 L252.80 644.01 L255.79 643.78 L258.78 643.55 L261.77 643.32 L264.76 643.09 L267.75 642.85 L270.74 642.62 L273.73 642.38 L276.72 642.15 L279.71 641.91 L282.70 641.68 L285.70 641.44 L288.69 641.21 L291.68 640.97 L294.67 640.73 L297.66 640.49 L300.65 640.25 L303.64 640.02 L306.63 639.78 L309.62 639.54 L312.61 639.30 L315.60 639.05 L318.59 638.81 L321.59 638.57 L324.58 638.33 L327.57 638.09 L330.56 637.85 L333.55 637.60 L336.54 637.36 L339.53 637.12 L342.52 636.87 L345.51 636.63 L348.50 636.38 L351.49 636.14 L354.48 635.89 L357.48 635.65 L360.47 635.40 L363.46 635.15 L366.45 634.91 L369.44 634.66 L372.43 634.41 L375.42 634.17 L378.41 633.92 L381.40 633.67 L384.39 633.42 L387.38 633.17 L390.37 632.93 L393.37 632.68 L396.36 632.43 L399.35 632.18 L402.34 631.93 L405.33 631.68 L408.32 631.43 L411.31 631.18 L414.30 630.93 L417.29 630.68 L420.28 630.43 L423.27 630.18 L426.26 629.93 L429.26 629.68 L432.25 629.43 L435.24 629.18 L438.23 628.92 L441.22 628.67 L444.21 628.42 L447.20 628.17 L450.19 627.92 L453.18 627.67 L456.17 627.42 L459.16 627.17 L462.15 626.91 L465.15 626.66 L468.14 626.41 L471.13 626.16 L474.12 625.91 L477.11 625.66 L480.10 625.40 L483.09 625.15 L486.08 624.90 L489.07 624.65 L492.06 624.40 L495.05 624.15 L498.04 623.89 L501.04 623.64 L504.03 623.39 L507.02 623.14 L510.01 622.89 L513.00 622.64 L515.99 622.39 L518.98 622.14 L521.97 621.89 L524.96 621.64 L527.95 621.39 L530.94 621.13 L533.93 620.88 L536.93 620.63 L539.92 620.38 L542.91 620.13 L545.90 619.89 L548.89 619.64 L551.88 619.39 L554.87 619.14 L557.86 618.89 L560.85 618.64 L563.84 618.39 L566.83 618.14 L569.82 617.90 L572.82 617.65 L575.81 617.40 L578.80 617.15 L581.79 616.91 L584.78 616.66 L587.77 616.41 L590.76 616.17 L593.75 615.92 L596.74 615.68 L599.73 615.43 L602.72 615.19 L605.71 614.94 L608.71 614.70 L611.70 614.45 L614.69 614.21 L617.68 613.97 L620.67 613.72 L623.66 613.48 L626.65 613.24 L629.64 613.00 L632.63 612.76 L635.62 612.52 L638.61 612.28 L641.60 612.04 L644.60 611.80 L647.59 611.56 L650.58 611.32 L653.57 611.08 L656.56 610.84 L659.55 610.61 L662.54 610.37 L665.53 610.13 L668.52 609.90 L671.51 609.66 L674.50 609.43 L677.49 609.19 L680.49 608.96 L683.48 608.72 L686.47 608.49 L689.46 608.26 L692.45 608.03 L695.44 607.80 L698.43 607.57 L701.42 607.34 L704.41 607.11 L707.40 606.88 L710.39 606.65 L713.38 606.42 L716.38 606.19 L719.37 605.97 L722.36 605.74 L725.35 605.52 L728.34 605.29 L731.33 605.07 L734.32 604.84 L737.31 604.62 L740.30 604.40 L743.29 604.18 L746.28 603.96 L749.27 603.74 L752.27 603.52 L755.26 603.30 L758.25 603.08 L761.24 602.87 L764.23 602.65 L767.22 602.43 L770.21 602.22 L773.20 602.00 L776.19 601.79 L779.18 601.58 L782.17 601.37 L785.16 601.16 L788.16 600.95 L791.15 600.74 L794.14 600.53 L797.13 600.32 L800.12 600.11 L803.11 599.91 L806.10 599.70" fill="none" stroke="#0e4a88" stroke-width="2.1" stroke-linecap="round" stroke-linejoin="round"/>
<path d="M120.50 654.41 L123.50 654.21 L126.50 654.02 L129.50 653.82 L132.50 653.62 L135.50 653.42 L138.50 653.23 L141.50 653.03 L144.50 652.82 L147.50 652.62 L150.50 652.42 L153.50 652.22 L156.49 652.01 L159.49 651.81 L162.49 651.60 L165.49 651.39 L168.49 651.19 L171.49 650.98 L174.49 650.77 L177.49 650.56 L180.49 650.35 L183.49 650.14 L186.49 649.93 L189.49 649.71 L192.49 649.50 L195.49 649.29 L198.49 649.07 L201.49 648.86 L204.49 648.64 L207.49 648.42 L210.49 648.21 L213.49 647.99 L216.49 647.77 L219.49 647.55 L222.49 647.33 L225.48 647.11 L228.48 646.89 L231.48 646.67 L234.48 646.44 L237.48 646.22 L240.48 646.00 L243.48 645.77 L246.48 645.55 L249.48 645.32 L252.48 645.10 L255.48 644.87 L258.48 644.64 L261.48 644.41 L264.48 644.19 L267.48 643.96 L270.48 643.73 L273.48 643.50 L276.48 643.27 L279.48 643.04 L282.48 642.81 L285.48 642.57 L288.48 642.34 L291.47 642.11 L294.47 641.88 L297.47 641.64 L300.47 641.41 L303.47 641.17 L306.47 640.94 L309.47 640.70 L312.47 640.47 L315.47 640.23 L318.47 640.00 L321.47 639.76 L324.47 639.52 L327.47 639.28 L330.47 639.05 L333.47 638.81 L336.47 638.57 L339.47 638.33 L342.47 638.09 L345.47 637.85 L348.47 637.61 L351.47 637.37 L354.47 637.13 L357.47 636.89 L360.46 636.65 L363.46 636.41 L366.46 636.16 L369.46 635.92 L372.46 635.68 L375.46 635.44 L378.46 635.19 L381.46 634.95 L384.46 634.71 L387.46 634.46 L390.46 634.22 L393.46 633.98 L396.46 633.73 L399.46 633.49 L402.46 633.24 L405.46 633.00 L408.46 632.75 L411.46 632.51 L414.46 632.26 L417.46 632.02 L420.46 631.77 L423.46 631.53 L426.46 631.28 L429.45 631.03 L432.45 630.79 L435.45 630.54 L438.45 630.30 L441.45 630.05 L444.45 629.80 L447.45 629.56 L450.45 629.31 L453.45 629.06 L456.45 628.82 L459.45 628.57 L462.45 628.32 L465.45 628.08 L468.45 627.83 L471.45 627.58 L474.45 627.34 L477.45 627.09 L480.45 626.84 L483.45 626.60 L486.45 626.35 L489.45 626.10 L492.45 625.86 L495.44 625.61 L498.44 625.36 L501.44 625.12 L504.44 624.87 L507.44 624.62 L510.44 624.38 L513.44 624.13 L516.44 623.88 L519.44 623.64 L522.44 623.39 L525.44 623.15 L528.44 622.90 L531.44 622.66 L534.44 622.41 L537.44 622.16 L540.44 621.92 L543.44 621.67 L546.44 621.43 L549.44 621.19 L552.44 620.94 L555.44 620.70 L558.44 620.45 L561.44 620.21 L564.43 619.97 L567.43 619.72 L570.43 619.48 L573.43 619.24 L576.43 618.99 L579.43 618.75 L582.43 618.51 L585.43 618.27 L588.43 618.03 L591.43 617.78 L594.43 617.54 L597.43 617.30 L600.43 617.06 L603.43 616.82 L606.43 616.58 L609.43 616.34 L612.43 616.10 L615.43 615.87 L618.43 615.63 L621.43 615.39 L624.43 615.15 L627.43 614.91 L630.43 614.68 L633.42 614.44 L636.42 614.20 L639.42 613.97 L642.42 613.73 L645.42 613.50 L648.42 613.26 L651.42 613.03 L654.42 612.80 L657.42 612.56 L660.42 612.33 L663.42 612.10 L666.42 611.87 L669.42 611.64 L672.42 611.40 L675.42 611.17 L678.42 610.94 L681.42 610.72 L684.42 610.49 L687.42 610.26 L690.42 610.03 L693.42 609.80 L696.42 609.58 L699.41 609.35 L702.41 609.13 L705.41 608.90 L708.41 608.68 L711.41 608.45 L714.41 608.23 L717.41 608.01 L720.41 607.79 L723.41 607.56 L726.41 607.34 L729.41 607.12 L732.41 606.90 L735.41 606.69 L738.41 606.47 L741.41 606.25 L744.41 606.03 L747.41 605.82 L750.41 605.60 L753.41 605.39 L756.41 605.17 L759.41 604.96 L762.41 604.75 L765.41 604.53 L768.40 604.32 L771.40 604.11 L774.40 603.90 L777.40 603.69 L780.40 603.49 L783.40 603.28 L786.40 603.07 L789.40 602.87 L792.40 602.66 L795.40 602.46 L798.40 602.25 L801.40 602.05" fill="none" stroke="#0e4a88" stroke-width="2.1" stroke-linecap="round" stroke-linejoin="round"/>
<path d="M52 690.3H73" fill="none" stroke="#0e4a88" stroke-width="1.0" />
<path d="M73.5 689.2L283 687.4" fill="none" stroke="#0e4a88" stroke-width="2.7" stroke-linecap="round" stroke-linejoin="round"/>
<path d="M215 690.9L283 690.2" fill="none" stroke="#000" stroke-width="1.2" />
<path d="M52 680.4L121.2 681.4" fill="none" stroke="#000" stroke-width="1.0" />
<path d="M52 682.4L121.2 683.4" fill="none" stroke="#000" stroke-width="1.0" />
<path d="M122.50 681.38 L125.50 681.38 L128.50 681.38 L131.49 681.38 L134.49 681.38 L137.49 681.38 L140.49 681.38 L143.48 681.38 L146.48 681.37 L149.48 681.37 L152.48 681.37 L155.48 681.37 L158.47 681.37 L161.47 681.37 L164.47 681.37 L167.47 681.36 L170.46 681.36 L173.46 681.36 L176.46 681.35 L179.46 681.35 L182.46 681.35 L185.45 681.34 L188.45 681.34 L191.45 681.33 L194.45 681.32 L197.45 681.32 L200.44 681.31 L203.44 681.30 L206.44 681.30 L209.44 681.29 L212.43 681.28 L215.43 681.27 L218.43 681.26 L221.43 681.25 L224.43 681.24 L227.42 681.22 L230.42 681.21 L233.42 681.20 L236.42 681.19 L239.41 681.17 L242.41 681.16 L245.41 681.14 L248.41 681.12 L251.41 681.10 L254.40 681.09 L257.40 681.07 L260.40 681.05 L263.40 681.03 L266.39 681.00 L269.39 680.98 L272.39 680.96 L275.39 680.93 L278.39 680.91 L281.38 680.88 L284.38 680.86 L287.38 680.83 L290.38 680.80 L293.38 680.77 L296.37 680.74 L299.37 680.71 L302.37 680.67 L305.37 680.64 L308.36 680.61 L311.36 680.57 L314.36 680.53 L317.36 680.49 L320.36 680.45 L323.35 680.41 L326.35 680.37 L329.35 680.33 L332.35 680.28 L335.34 680.24 L338.34 680.19 L341.34 680.15 L344.34 680.10 L347.34 680.05 L350.33 679.99 L353.33 679.94 L356.33 679.89 L359.33 679.83 L362.32 679.78 L365.32 679.72 L368.32 679.66 L371.32 679.60 L374.32 679.54 L377.31 679.47 L380.31 679.41 L383.31 679.34 L386.31 679.27 L389.30 679.20 L392.30 679.13 L395.30 679.06 L398.30 678.99 L401.30 678.91 L404.29 678.83 L407.29 678.76 L410.29 678.68 L413.29 678.59 L416.29 678.51 L419.28 678.43 L422.28 678.34 L425.28 678.25 L428.28 678.16 L431.27 678.07 L434.27 677.98 L437.27 677.88 L440.27 677.79 L443.27 677.69 L446.26 677.59 L449.26 677.49 L452.26 677.39 L455.26 677.28 L458.25 677.17 L461.25 677.07 L464.25 676.95 L467.25 676.84 L470.25 676.73 L473.24 676.61 L476.24 676.50 L479.24 676.38 L482.24 676.25 L485.23 676.13 L488.23 676.01 L491.23 675.88 L494.23 675.75 L497.23 675.62 L500.22 675.48 L503.22 675.35 L506.22 675.21 L509.22 675.07 L512.21 674.93 L515.21 674.79 L518.21 674.64 L521.21 674.50 L524.21 674.35 L527.20 674.20 L530.20 674.04 L533.20 673.89 L536.20 673.73 L539.20 673.57 L542.19 673.41 L545.19 673.24 L548.19 673.08 L551.19 672.91 L554.18 672.74 L557.18 672.56 L560.18 672.39 L563.18 672.21 L566.18 672.03 L569.17 671.85 L572.17 671.67 L575.17 671.48 L578.17 671.29 L581.16 671.10 L584.16 670.91 L587.16 670.71 L590.16 670.51 L593.16 670.31 L596.15 670.11 L599.15 669.90 L602.15 669.70 L605.15 669.49 L608.14 669.28 L611.14 669.06 L614.14 668.84 L617.14 668.62 L620.14 668.40 L623.13 668.18 L626.13 667.95 L629.13 667.72 L632.13 667.49 L635.12 667.25 L638.12 667.02 L641.12 666.78 L644.12 666.54 L647.12 666.29 L650.11 666.04 L653.11 665.79 L656.11 665.54 L659.11 665.29 L662.11 665.03 L665.10 664.77 L668.10 664.51 L671.10 664.24 L674.10 663.97 L677.09 663.70 L680.09 663.43 L683.09 663.15 L686.09 662.87 L689.09 662.59 L692.08 662.31 L695.08 662.02 L698.08 661.73 L701.08 661.44 L704.07 661.14 L707.07 660.84 L710.07 660.54 L713.07 660.24 L716.07 659.93 L719.06 659.62 L722.06 659.31 L725.06 658.99 L728.06 658.68 L731.05 658.36 L734.05 658.03 L737.05 657.71 L740.05 657.38 L743.05 657.04 L746.04 656.71 L749.04 656.37 L752.04 656.03 L755.04 655.69 L758.04 655.34 L761.03 654.99 L764.03 654.64 L767.03 654.28 L770.03 653.92 L773.02 653.56 L776.02 653.19 L779.02 652.83 L782.02 652.46 L785.02 652.08 L788.01 651.70 L791.01 651.32 L794.01 650.94 L797.01 650.55 L800.00 650.17 L803.00 649.77 L806.00 649.38" fill="none" stroke="#000" stroke-width="2.6" stroke-linecap="round" stroke-linejoin="round"/>
<path d="M122.50 683.77 L125.49 683.77 L128.48 683.76 L131.47 683.75 L134.46 683.75 L137.45 683.74 L140.44 683.73 L143.44 683.73 L146.43 683.72 L149.42 683.71 L152.41 683.71 L155.40 683.70 L158.39 683.69 L161.38 683.68 L164.37 683.67 L167.36 683.66 L170.35 683.66 L173.34 683.65 L176.33 683.64 L179.32 683.63 L182.31 683.62 L185.31 683.61 L188.30 683.59 L191.29 683.58 L194.28 683.57 L197.27 683.56 L200.26 683.54 L203.25 683.53 L206.24 683.52 L209.23 683.50 L212.22 683.49 L215.21 683.47 L218.20 683.45 L221.19 683.44 L224.19 683.42 L227.18 683.40 L230.17 683.38 L233.16 683.36 L236.15 683.34 L239.14 683.32 L242.13 683.30 L245.12 683.28 L248.11 683.26 L251.10 683.23 L254.09 683.21 L257.08 683.18 L260.07 683.16 L263.07 683.13 L266.06 683.10 L269.05 683.07 L272.04 683.04 L275.03 683.01 L278.02 682.98 L281.01 682.95 L284.00 682.92 L286.99 682.88 L289.98 682.85 L292.97 682.81 L295.96 682.77 L298.95 682.74 L301.94 682.70 L304.94 682.66 L307.93 682.62 L310.92 682.57 L313.91 682.53 L316.90 682.49 L319.89 682.44 L322.88 682.39 L325.87 682.35 L328.86 682.30 L331.85 682.25 L334.84 682.20 L337.83 682.14 L340.82 682.09 L343.82 682.04 L346.81 681.98 L349.80 681.92 L352.79 681.86 L355.78 681.80 L358.77 681.74 L361.76 681.68 L364.75 681.62 L367.74 681.55 L370.73 681.48 L373.72 681.42 L376.71 681.35 L379.70 681.27 L382.70 681.20 L385.69 681.13 L388.68 681.05 L391.67 680.98 L394.66 680.90 L397.65 680.82 L400.64 680.74 L403.63 680.66 L406.62 680.57 L409.61 680.49 L412.60 680.40 L415.59 680.31 L418.58 680.22 L421.57 680.13 L424.57 680.03 L427.56 679.94 L430.55 679.84 L433.54 679.74 L436.53 679.64 L439.52 679.54 L442.51 679.44 L445.50 679.33 L448.49 679.22 L451.48 679.12 L454.47 679.00 L457.46 678.89 L460.45 678.78 L463.45 678.66 L466.44 678.54 L469.43 678.42 L472.42 678.30 L475.41 678.18 L478.40 678.06 L481.39 677.93 L484.38 677.80 L487.37 677.67 L490.36 677.54 L493.35 677.40 L496.34 677.26 L499.33 677.13 L502.33 676.99 L505.32 676.84 L508.31 676.70 L511.30 676.55 L514.29 676.40 L517.28 676.25 L520.27 676.10 L523.26 675.95 L526.25 675.79 L529.24 675.63 L532.23 675.47 L535.22 675.31 L538.21 675.14 L541.20 674.97 L544.20 674.80 L547.19 674.63 L550.18 674.46 L553.17 674.28 L556.16 674.11 L559.15 673.93 L562.14 673.74 L565.13 673.56 L568.12 673.37 L571.11 673.18 L574.10 672.99 L577.09 672.80 L580.08 672.60 L583.08 672.40 L586.07 672.20 L589.06 672.00 L592.05 671.79 L595.04 671.59 L598.03 671.38 L601.02 671.16 L604.01 670.95 L607.00 670.73 L609.99 670.51 L612.98 670.29 L615.97 670.06 L618.96 669.84 L621.96 669.61 L624.95 669.38 L627.94 669.14 L630.93 668.91 L633.92 668.67 L636.91 668.42 L639.90 668.18 L642.89 667.93 L645.88 667.68 L648.87 667.43 L651.86 667.18 L654.85 666.92 L657.84 666.66 L660.83 666.40 L663.83 666.13 L666.82 665.87 L669.81 665.60 L672.80 665.32 L675.79 665.05 L678.78 664.77 L681.77 664.49 L684.76 664.21 L687.75 663.92 L690.74 663.63 L693.73 663.34 L696.72 663.04 L699.71 662.75 L702.71 662.45 L705.70 662.15 L708.69 661.84 L711.68 661.53 L714.67 661.22 L717.66 660.91 L720.65 660.59 L723.64 660.27 L726.63 659.95 L729.62 659.62 L732.61 659.30 L735.60 658.97 L738.59 658.63 L741.59 658.30 L744.58 657.96 L747.57 657.61 L750.56 657.27 L753.55 656.92 L756.54 656.57 L759.53 656.22 L762.52 655.86 L765.51 655.50 L768.50 655.14 L771.49 654.77 L774.48 654.40 L777.47 654.03 L780.46 653.66 L783.46 653.28 L786.45 652.90 L789.44 652.51 L792.43 652.13 L795.42 651.74 L798.41 651.34 L801.40 650.95" fill="none" stroke="#000" stroke-width="2.6" stroke-linecap="round" stroke-linejoin="round"/>
<path d="M122.50 682.57 L125.49 682.57 L128.48 682.57 L131.48 682.57 L134.47 682.56 L137.46 682.56 L140.45 682.56 L143.45 682.55 L146.44 682.55 L149.43 682.54 L152.42 682.54 L155.42 682.53 L158.41 682.53 L161.40 682.52 L164.39 682.52 L167.39 682.51 L170.38 682.51 L173.37 682.50 L176.36 682.50 L179.36 682.49 L182.35 682.48 L185.34 682.47 L188.33 682.47 L191.33 682.46 L194.32 682.45 L197.31 682.44 L200.30 682.43 L203.30 682.42 L206.29 682.41 L209.28 682.40 L212.27 682.38 L215.27 682.37 L218.26 682.36 L221.25 682.34 L224.24 682.33 L227.24 682.31 L230.23 682.30 L233.22 682.28 L236.21 682.27 L239.21 682.25 L242.20 682.23 L245.19 682.21 L248.18 682.19 L251.18 682.17 L254.17 682.15 L257.16 682.13 L260.15 682.10 L263.15 682.08 L266.14 682.05 L269.13 682.03 L272.12 682.00 L275.12 681.98 L278.11 681.95 L281.10 681.92 L284.09 681.89 L287.09 681.86 L290.08 681.83 L293.07 681.79 L296.06 681.76 L299.06 681.72 L302.05 681.69 L305.04 681.65 L308.03 681.61 L311.02 681.57 L314.02 681.53 L317.01 681.49 L320.00 681.45 L322.99 681.41 L325.99 681.36 L328.98 681.32 L331.97 681.27 L334.96 681.22 L337.96 681.17 L340.95 681.12 L343.94 681.07 L346.93 681.02 L349.93 680.96 L352.92 680.91 L355.91 680.85 L358.90 680.79 L361.90 680.73 L364.89 680.67 L367.88 680.61 L370.87 680.54 L373.87 680.48 L376.86 680.41 L379.85 680.35 L382.84 680.28 L385.84 680.21 L388.83 680.13 L391.82 680.06 L394.81 679.98 L397.81 679.91 L400.80 679.83 L403.79 679.75 L406.78 679.67 L409.78 679.59 L412.77 679.50 L415.76 679.42 L418.75 679.33 L421.75 679.24 L424.74 679.15 L427.73 679.06 L430.72 678.96 L433.72 678.87 L436.71 678.77 L439.70 678.67 L442.69 678.57 L445.69 678.47 L448.68 678.36 L451.67 678.26 L454.66 678.15 L457.66 678.04 L460.65 677.93 L463.64 677.82 L466.63 677.70 L469.63 677.59 L472.62 677.47 L475.61 677.35 L478.60 677.23 L481.60 677.10 L484.59 676.98 L487.58 676.85 L490.57 676.72 L493.57 676.59 L496.56 676.45 L499.55 676.32 L502.54 676.18 L505.53 676.04 L508.53 675.90 L511.52 675.75 L514.51 675.61 L517.50 675.46 L520.50 675.31 L523.49 675.16 L526.48 675.01 L529.47 674.85 L532.47 674.69 L535.46 674.53 L538.45 674.37 L541.44 674.21 L544.44 674.04 L547.43 673.87 L550.42 673.70 L553.41 673.53 L556.41 673.35 L559.40 673.17 L562.39 672.99 L565.38 672.81 L568.38 672.63 L571.37 672.44 L574.36 672.25 L577.35 672.06 L580.35 671.87 L583.34 671.67 L586.33 671.48 L589.32 671.28 L592.32 671.07 L595.31 670.87 L598.30 670.66 L601.29 670.45 L604.29 670.24 L607.28 670.03 L610.27 669.81 L613.26 669.59 L616.26 669.37 L619.25 669.14 L622.24 668.92 L625.23 668.69 L628.23 668.46 L631.22 668.22 L634.21 667.99 L637.20 667.75 L640.20 667.51 L643.19 667.26 L646.18 667.02 L649.17 666.77 L652.17 666.51 L655.16 666.26 L658.15 666.00 L661.14 665.74 L664.14 665.48 L667.13 665.22 L670.12 664.95 L673.11 664.68 L676.11 664.41 L679.10 664.13 L682.09 663.85 L685.08 663.57 L688.07 663.29 L691.07 663.00 L694.06 662.71 L697.05 662.42 L700.04 662.13 L703.04 661.83 L706.03 661.53 L709.02 661.23 L712.01 660.92 L715.01 660.61 L718.00 660.30 L720.99 659.99 L723.98 659.67 L726.98 659.35 L729.97 659.03 L732.96 658.71 L735.95 658.38 L738.95 658.05 L741.94 657.71 L744.93 657.38 L747.92 657.04 L750.92 656.70 L753.91 656.35 L756.90 656.00 L759.89 655.65 L762.89 655.30 L765.88 654.94 L768.87 654.58 L771.86 654.21 L774.86 653.85 L777.85 653.48 L780.84 653.11 L783.83 652.73 L786.83 652.35 L789.82 651.97 L792.81 651.59 L795.80 651.20 L798.80 650.81 L801.79 650.42 L804.78 650.02 L807.77 649.62 L810.77 649.22 L813.76 648.81 L816.75 648.40 L819.74 647.99 L822.74 647.58 L825.73 647.16 L828.72 646.73 L831.71 646.31 L834.71 645.88 L837.70 645.45 L840.69 645.02 L843.68 644.58 L846.68 644.14 L849.67 643.69 L852.66 643.25 L855.65 642.80 L858.65 642.34 L861.64 641.89 L864.63 641.43 L867.62 640.96 L870.62 640.49 L873.61 640.02 L876.60 639.55" fill="none" stroke="#000" stroke-width="2.5" stroke-linecap="round" stroke-linejoin="round"/>
<text transform="translate(668.30 549.70) scale(1.0720 1)" text-anchor="start" fill="#1f5088" font-size="16">P1 (motor+freq.converter)</text>
<text transform="translate(850.80 587.60) scale(1.0600 1)" text-anchor="start" fill="#1f5088" font-size="16">P2</text>
<path d="M51.5 518V692.5" fill="none" stroke="#000" stroke-width="1.8" />
<path d="M959.2 518V692.5" fill="none" stroke="#000" stroke-width="1.8" />
<path d="M50.6 691.7H960.1" fill="none" stroke="#000" stroke-width="1.8" />
<path d="M50.6 518.3H960.1" fill="none" stroke="#858585" stroke-width="1.5" />
<path d="M44 692.10H51M44 663.10H51M44 634.10H51M44 605.10H51M44 576.10H51M44 547.10H51M959 692.10H966M959 663.10H966M959 634.10H966M959 605.10H966M959 576.10H966M959 547.10H966" fill="none" stroke="#000" stroke-width="2" />
<text transform="translate(37.70 697.10) scale(1.0200 1)" text-anchor="end" fill="#000" font-size="16">0.0</text>
<text transform="translate(37.70 668.10) scale(1.0200 1)" text-anchor="end" fill="#000" font-size="16">0.5</text>
<text transform="translate(37.70 639.10) scale(1.0200 1)" text-anchor="end" fill="#000" font-size="16">1.0</text>
<text transform="translate(37.70 610.10) scale(1.0200 1)" text-anchor="end" fill="#000" font-size="16">1.5</text>
<text transform="translate(37.70 581.10) scale(1.0200 1)" text-anchor="end" fill="#000" font-size="16">2.0</text>
<text transform="translate(971.00 697.10) scale(1.0000 1)" text-anchor="start" fill="#000" font-size="16">0</text>
<text transform="translate(971.00 668.10) scale(1.0000 1)" text-anchor="start" fill="#000" font-size="16">2</text>
<text transform="translate(971.00 639.10) scale(1.0000 1)" text-anchor="start" fill="#000" font-size="16">4</text>
<text transform="translate(971.00 610.10) scale(1.0000 1)" text-anchor="start" fill="#000" font-size="16">6</text>
<text transform="translate(971.00 581.10) scale(1.0000 1)" text-anchor="start" fill="#000" font-size="16">8</text>
<text transform="translate(25.10 532.60) scale(1.0600 1)" text-anchor="middle" fill="#000" font-size="16">P</text>
<text transform="translate(24.90 551.60) scale(1.0700 1)" text-anchor="middle" fill="#000" font-size="16">[kW]</text>
<text transform="translate(991.00 532.50) scale(1.0600 1)" text-anchor="middle" fill="#000" font-size="16">NPSH</text>
<text transform="translate(991.00 551.30) scale(1.0600 1)" text-anchor="middle" fill="#000" font-size="16">[m]</text>
<circle cx="680.4" cy="600.6" r="5.6" fill="#ff0000"/>
<circle cx="680.4" cy="609.3" r="5.6" fill="#ff0000"/>
<circle cx="680.4" cy="663.2" r="5.6" fill="#ff0000"/>
<text transform="translate(54.50 718.90) scale(1.0600 1)" text-anchor="start" fill="#000" font-size="16">P1 (motor+freq.converter) = 1.578 kW</text>
<text transform="translate(54.50 739.80) scale(1.0500 1)" text-anchor="start" fill="#000" font-size="16">P2 = 1.429 kW</text>
<text transform="translate(54.50 760.90) scale(1.0500 1)" text-anchor="start" fill="#000" font-size="16">NPSH = 2 m</text>
</svg>
</body></html>
